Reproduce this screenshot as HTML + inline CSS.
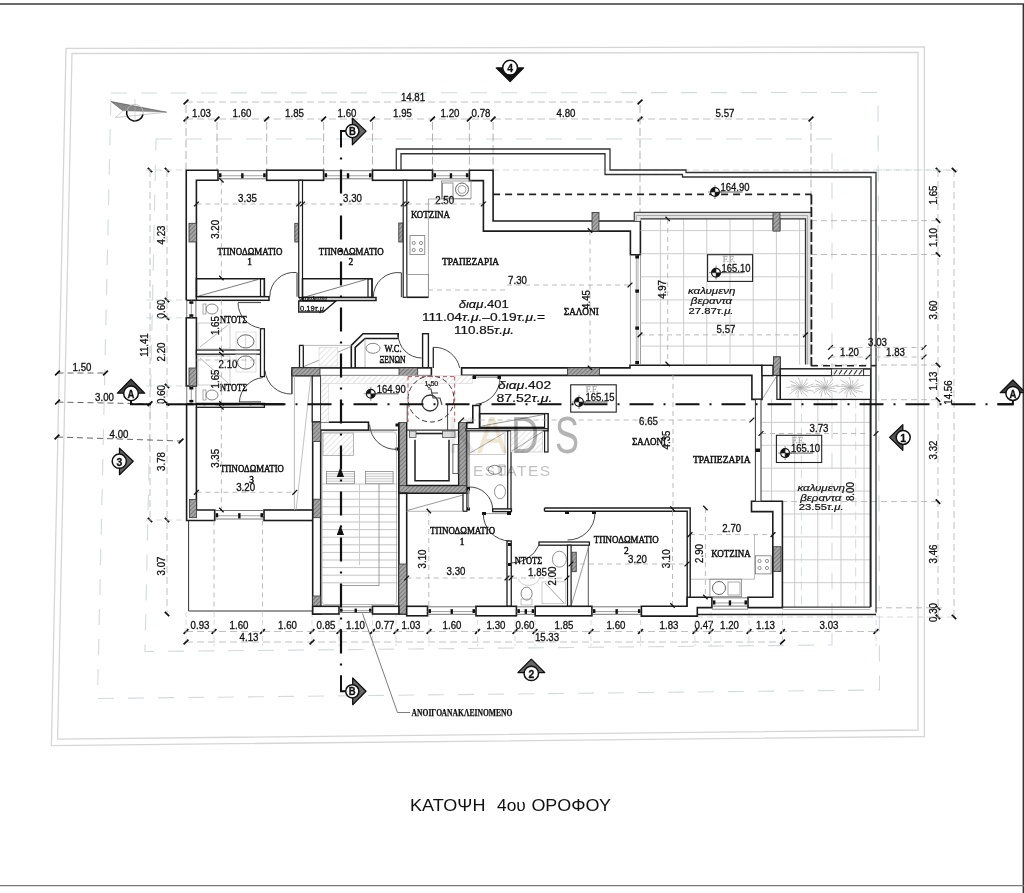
<!DOCTYPE html>
<html><head><meta charset="utf-8"><style>
html,body{margin:0;padding:0;background:#fff;}
svg{display:block;filter:blur(0.3px);}
</style></head><body>
<svg width="1024" height="893" viewBox="0 0 1024 893">
<defs>
<pattern id="hd" width="3" height="3" patternUnits="userSpaceOnUse" patternTransform="rotate(45)"><rect width="3" height="3" fill="#a6a6a6"/><line x1="0" y1="0" x2="0" y2="3" stroke="#555" stroke-width="1.1"/></pattern>
<pattern id="hl" width="4" height="4" patternUnits="userSpaceOnUse" patternTransform="rotate(45)"><rect width="4" height="4" fill="#fff"/><line x1="0" y1="0" x2="0" y2="4" stroke="#bbb" stroke-width="0.8"/></pattern>
</defs>
<rect width="1024" height="893" fill="#fff"/>
<line x1="0" y1="4" x2="1024" y2="4" stroke="#6a6a6a" stroke-width="1.8" stroke-linecap="butt"/>
<line x1="1023.3" y1="4" x2="1023.3" y2="893" stroke="#333" stroke-width="1.4" stroke-linecap="butt"/>
<line x1="0" y1="885.6" x2="1024" y2="885.6" stroke="#7a7a7a" stroke-width="1.3" stroke-linecap="butt"/>
<polygon points="66,48.4 924.4,46.8 924.4,736.5 51.4,745.6" stroke="#d6d6d6" stroke-width="1.3" fill="none" stroke-linejoin="miter"/>
<polygon points="72,53.5 918,52.5 918,730 57.6,739.1" stroke="#d6d6d6" stroke-width="1.3" fill="none" stroke-linejoin="miter"/>
<polygon points="111,93 878,92.5 879.5,690 97.5,698.5" stroke="#d2dadd" stroke-width="1.1" fill="none" stroke-dasharray="16,14" stroke-linejoin="miter"/>
<polygon points="156,139 832,139 832,645 145,651.5" stroke="#d2dadd" stroke-width="1.1" fill="none" stroke-dasharray="16,14" stroke-linejoin="miter"/>
<line x1="186" y1="102" x2="640" y2="102" stroke="#b3b3b3" stroke-width="0.8" stroke-dasharray="7,4" stroke-linecap="butt"/>
<line x1="183.6" y1="104.4" x2="188.4" y2="99.6" stroke="#111" stroke-width="1.7" stroke-linecap="butt"/>
<line x1="637.6" y1="104.4" x2="642.4" y2="99.6" stroke="#111" stroke-width="1.7" stroke-linecap="butt"/>
<text x="413.00" y="101.09" font-family="Liberation Sans, sans-serif" font-size="10.2" text-anchor="middle" font-weight="normal" font-style="normal" fill="#111" transform="translate(413.00,101.09) scale(0.95,1) translate(-413.00,-101.09)" stroke="#111" stroke-width="0.3">14.81</text>
<line x1="186" y1="119" x2="811" y2="119" stroke="#b3b3b3" stroke-width="0.8" stroke-dasharray="7,4" stroke-linecap="butt"/>
<line x1="183.6" y1="121.4" x2="188.4" y2="116.6" stroke="#111" stroke-width="1.7" stroke-linecap="butt"/>
<line x1="214.6" y1="121.4" x2="219.4" y2="116.6" stroke="#111" stroke-width="1.7" stroke-linecap="butt"/>
<line x1="264.3" y1="121.4" x2="269.09999999999997" y2="116.6" stroke="#111" stroke-width="1.7" stroke-linecap="butt"/>
<line x1="321.20000000000005" y1="121.4" x2="326.0" y2="116.6" stroke="#111" stroke-width="1.7" stroke-linecap="butt"/>
<line x1="370.1" y1="121.4" x2="374.9" y2="116.6" stroke="#111" stroke-width="1.7" stroke-linecap="butt"/>
<line x1="430.1" y1="121.4" x2="434.9" y2="116.6" stroke="#111" stroke-width="1.7" stroke-linecap="butt"/>
<line x1="467.0" y1="121.4" x2="471.79999999999995" y2="116.6" stroke="#111" stroke-width="1.7" stroke-linecap="butt"/>
<line x1="490.70000000000005" y1="121.4" x2="495.5" y2="116.6" stroke="#111" stroke-width="1.7" stroke-linecap="butt"/>
<line x1="637.6" y1="121.4" x2="642.4" y2="116.6" stroke="#111" stroke-width="1.7" stroke-linecap="butt"/>
<line x1="808.6" y1="121.4" x2="813.4" y2="116.6" stroke="#111" stroke-width="1.7" stroke-linecap="butt"/>
<text x="201.50" y="117.09" font-family="Liberation Sans, sans-serif" font-size="10.2" text-anchor="middle" font-weight="normal" font-style="normal" fill="#111" transform="translate(201.50,117.09) scale(0.95,1) translate(-201.50,-117.09)" stroke="#111" stroke-width="0.3">1.03</text>
<text x="242.00" y="117.09" font-family="Liberation Sans, sans-serif" font-size="10.2" text-anchor="middle" font-weight="normal" font-style="normal" fill="#111" transform="translate(242.00,117.09) scale(0.95,1) translate(-242.00,-117.09)" stroke="#111" stroke-width="0.3">1.60</text>
<text x="294.50" y="117.09" font-family="Liberation Sans, sans-serif" font-size="10.2" text-anchor="middle" font-weight="normal" font-style="normal" fill="#111" transform="translate(294.50,117.09) scale(0.95,1) translate(-294.50,-117.09)" stroke="#111" stroke-width="0.3">1.85</text>
<text x="347.00" y="117.09" font-family="Liberation Sans, sans-serif" font-size="10.2" text-anchor="middle" font-weight="normal" font-style="normal" fill="#111" transform="translate(347.00,117.09) scale(0.95,1) translate(-347.00,-117.09)" stroke="#111" stroke-width="0.3">1.60</text>
<text x="402.50" y="117.09" font-family="Liberation Sans, sans-serif" font-size="10.2" text-anchor="middle" font-weight="normal" font-style="normal" fill="#111" transform="translate(402.50,117.09) scale(0.95,1) translate(-402.50,-117.09)" stroke="#111" stroke-width="0.3">1.95</text>
<text x="450.00" y="117.09" font-family="Liberation Sans, sans-serif" font-size="10.2" text-anchor="middle" font-weight="normal" font-style="normal" fill="#111" transform="translate(450.00,117.09) scale(0.95,1) translate(-450.00,-117.09)" stroke="#111" stroke-width="0.3">1.20</text>
<text x="481.00" y="117.09" font-family="Liberation Sans, sans-serif" font-size="10.2" text-anchor="middle" font-weight="normal" font-style="normal" fill="#111" transform="translate(481.00,117.09) scale(0.95,1) translate(-481.00,-117.09)" stroke="#111" stroke-width="0.3">0.78</text>
<text x="566.00" y="117.09" font-family="Liberation Sans, sans-serif" font-size="10.2" text-anchor="middle" font-weight="normal" font-style="normal" fill="#111" transform="translate(566.00,117.09) scale(0.95,1) translate(-566.00,-117.09)" stroke="#111" stroke-width="0.3">4.80</text>
<text x="725.00" y="117.09" font-family="Liberation Sans, sans-serif" font-size="10.2" text-anchor="middle" font-weight="normal" font-style="normal" fill="#111" transform="translate(725.00,117.09) scale(0.95,1) translate(-725.00,-117.09)" stroke="#111" stroke-width="0.3">5.57</text>
<line x1="186" y1="105" x2="186" y2="170" stroke="#aaa" stroke-width="0.9" stroke-dasharray="8,3.5" stroke-linecap="butt"/>
<line x1="217" y1="122" x2="217" y2="170" stroke="#aaa" stroke-width="0.9" stroke-dasharray="8,3.5" stroke-linecap="butt"/>
<line x1="266.7" y1="122" x2="266.7" y2="170" stroke="#aaa" stroke-width="0.9" stroke-dasharray="8,3.5" stroke-linecap="butt"/>
<line x1="323.6" y1="122" x2="323.6" y2="170" stroke="#aaa" stroke-width="0.9" stroke-dasharray="8,3.5" stroke-linecap="butt"/>
<line x1="372.5" y1="122" x2="372.5" y2="170" stroke="#aaa" stroke-width="0.9" stroke-dasharray="8,3.5" stroke-linecap="butt"/>
<line x1="432.5" y1="122" x2="432.5" y2="170" stroke="#aaa" stroke-width="0.9" stroke-dasharray="8,3.5" stroke-linecap="butt"/>
<line x1="469.4" y1="122" x2="469.4" y2="170" stroke="#aaa" stroke-width="0.9" stroke-dasharray="8,3.5" stroke-linecap="butt"/>
<line x1="493.1" y1="122" x2="493.1" y2="170" stroke="#aaa" stroke-width="0.9" stroke-dasharray="8,3.5" stroke-linecap="butt"/>
<line x1="640" y1="105" x2="640" y2="212" stroke="#aaa" stroke-width="0.9" stroke-dasharray="8,3.5" stroke-linecap="butt"/>
<line x1="811" y1="122" x2="811" y2="212" stroke="#aaa" stroke-width="0.9" stroke-dasharray="8,3.5" stroke-linecap="butt"/>
<line x1="493" y1="170" x2="958" y2="170" stroke="#c9d3d6" stroke-width="0.8" stroke-dasharray="6,4" stroke-linecap="butt"/>
<line x1="150" y1="170" x2="150" y2="520" stroke="#b3b3b3" stroke-width="0.8" stroke-dasharray="7,4" stroke-linecap="butt"/>
<line x1="167" y1="170" x2="167" y2="614" stroke="#b3b3b3" stroke-width="0.8" stroke-dasharray="7,4" stroke-linecap="butt"/>
<line x1="147.8" y1="167.8" x2="152.2" y2="172.2" stroke="#111" stroke-width="1.7" stroke-linecap="butt"/>
<line x1="147.8" y1="517.8" x2="152.2" y2="522.2" stroke="#111" stroke-width="1.7" stroke-linecap="butt"/>
<line x1="164.8" y1="167.8" x2="169.2" y2="172.2" stroke="#111" stroke-width="1.7" stroke-linecap="butt"/>
<line x1="164.8" y1="297.8" x2="169.2" y2="302.2" stroke="#111" stroke-width="1.7" stroke-linecap="butt"/>
<line x1="164.8" y1="315.6" x2="169.2" y2="320.0" stroke="#111" stroke-width="1.7" stroke-linecap="butt"/>
<line x1="164.8" y1="383.8" x2="169.2" y2="388.2" stroke="#111" stroke-width="1.7" stroke-linecap="butt"/>
<line x1="164.8" y1="401.3" x2="169.2" y2="405.7" stroke="#111" stroke-width="1.7" stroke-linecap="butt"/>
<line x1="164.8" y1="517.8" x2="169.2" y2="522.2" stroke="#111" stroke-width="1.7" stroke-linecap="butt"/>
<line x1="164.8" y1="611.8" x2="169.2" y2="616.2" stroke="#111" stroke-width="1.7" stroke-linecap="butt"/>
<text x="148.09" y="345.00" font-family="Liberation Sans, sans-serif" font-size="10.2" text-anchor="middle" font-weight="normal" font-style="normal" fill="#111" transform="translate(148.09,345.00) rotate(-90) scale(0.95,1) translate(-148.09,-345.00)" stroke="#111" stroke-width="0.3">11.41</text>
<text x="164.59" y="235.00" font-family="Liberation Sans, sans-serif" font-size="10.2" text-anchor="middle" font-weight="normal" font-style="normal" fill="#111" transform="translate(164.59,235.00) rotate(-90) scale(0.95,1) translate(-164.59,-235.00)" stroke="#111" stroke-width="0.3">4.23</text>
<text x="164.59" y="309.00" font-family="Liberation Sans, sans-serif" font-size="10.2" text-anchor="middle" font-weight="normal" font-style="normal" fill="#111" transform="translate(164.59,309.00) rotate(-90) scale(0.95,1) translate(-164.59,-309.00)" stroke="#111" stroke-width="0.3">0.60</text>
<text x="164.59" y="352.00" font-family="Liberation Sans, sans-serif" font-size="10.2" text-anchor="middle" font-weight="normal" font-style="normal" fill="#111" transform="translate(164.59,352.00) rotate(-90) scale(0.95,1) translate(-164.59,-352.00)" stroke="#111" stroke-width="0.3">2.20</text>
<text x="164.59" y="394.50" font-family="Liberation Sans, sans-serif" font-size="10.2" text-anchor="middle" font-weight="normal" font-style="normal" fill="#111" transform="translate(164.59,394.50) rotate(-90) scale(0.95,1) translate(-164.59,-394.50)" stroke="#111" stroke-width="0.3">0.60</text>
<text x="164.59" y="461.50" font-family="Liberation Sans, sans-serif" font-size="10.2" text-anchor="middle" font-weight="normal" font-style="normal" fill="#111" transform="translate(164.59,461.50) rotate(-90) scale(0.95,1) translate(-164.59,-461.50)" stroke="#111" stroke-width="0.3">3.78</text>
<text x="164.59" y="566.00" font-family="Liberation Sans, sans-serif" font-size="10.2" text-anchor="middle" font-weight="normal" font-style="normal" fill="#111" transform="translate(164.59,566.00) rotate(-90) scale(0.95,1) translate(-164.59,-566.00)" stroke="#111" stroke-width="0.3">3.07</text>
<line x1="146" y1="170" x2="186" y2="170" stroke="#c9d3d6" stroke-width="0.8" stroke-dasharray="6,4" stroke-linecap="butt"/>
<line x1="146" y1="300" x2="186" y2="300" stroke="#c9d3d6" stroke-width="0.8" stroke-dasharray="6,4" stroke-linecap="butt"/>
<line x1="146" y1="317.8" x2="186" y2="317.8" stroke="#c9d3d6" stroke-width="0.8" stroke-dasharray="6,4" stroke-linecap="butt"/>
<line x1="146" y1="386" x2="186" y2="386" stroke="#c9d3d6" stroke-width="0.8" stroke-dasharray="6,4" stroke-linecap="butt"/>
<line x1="146" y1="403.5" x2="186" y2="403.5" stroke="#c9d3d6" stroke-width="0.8" stroke-dasharray="6,4" stroke-linecap="butt"/>
<line x1="146" y1="520" x2="186" y2="520" stroke="#c9d3d6" stroke-width="0.8" stroke-dasharray="6,4" stroke-linecap="butt"/>
<line x1="57.5" y1="373" x2="105.5" y2="373" stroke="#555" stroke-width="0.9" stroke-dasharray="6,4" stroke-linecap="butt"/>
<line x1="55.1" y1="375.4" x2="59.9" y2="370.6" stroke="#111" stroke-width="1.7" stroke-linecap="butt"/>
<line x1="103.1" y1="375.4" x2="107.9" y2="370.6" stroke="#111" stroke-width="1.7" stroke-linecap="butt"/>
<text x="82.00" y="370.59" font-family="Liberation Sans, sans-serif" font-size="10.2" text-anchor="middle" font-weight="normal" font-style="normal" fill="#111" transform="translate(82.00,370.59) scale(0.95,1) translate(-82.00,-370.59)" stroke="#111" stroke-width="0.3">1.50</text>
<line x1="57.5" y1="402.1" x2="150" y2="403.8" stroke="#555" stroke-width="0.9" stroke-dasharray="6,4" stroke-linecap="butt"/>
<line x1="55.1" y1="404.5" x2="59.9" y2="399.70000000000005" stroke="#111" stroke-width="1.7" stroke-linecap="butt"/>
<line x1="147.6" y1="406.2" x2="152.4" y2="401.40000000000003" stroke="#111" stroke-width="1.7" stroke-linecap="butt"/>
<text x="104.50" y="400.89" font-family="Liberation Sans, sans-serif" font-size="10.2" text-anchor="middle" font-weight="normal" font-style="normal" fill="#111" transform="translate(104.50,400.89) scale(0.95,1) translate(-104.50,-400.89)" stroke="#111" stroke-width="0.3">3.00</text>
<line x1="57" y1="437" x2="181" y2="441" stroke="#555" stroke-width="0.9" stroke-dasharray="6,4" stroke-linecap="butt"/>
<line x1="54.6" y1="439.4" x2="59.4" y2="434.6" stroke="#111" stroke-width="1.7" stroke-linecap="butt"/>
<line x1="178.6" y1="443.4" x2="183.4" y2="438.6" stroke="#111" stroke-width="1.7" stroke-linecap="butt"/>
<text x="119.00" y="438.19" font-family="Liberation Sans, sans-serif" font-size="10.2" text-anchor="middle" font-weight="normal" font-style="normal" fill="#111" transform="translate(119.00,438.19) scale(0.95,1) translate(-119.00,-438.19)" stroke="#111" stroke-width="0.3">4.00</text>
<line x1="938" y1="170" x2="938" y2="617" stroke="#b3b3b3" stroke-width="0.8" stroke-dasharray="7,4" stroke-linecap="butt"/>
<line x1="954" y1="170" x2="954" y2="620" stroke="#b3b3b3" stroke-width="0.8" stroke-dasharray="7,4" stroke-linecap="butt"/>
<line x1="935.8" y1="167.8" x2="940.2" y2="172.2" stroke="#111" stroke-width="1.7" stroke-linecap="butt"/>
<line x1="935.8" y1="218.5" x2="940.2" y2="222.89999999999998" stroke="#111" stroke-width="1.7" stroke-linecap="butt"/>
<line x1="935.8" y1="252.3" x2="940.2" y2="256.7" stroke="#111" stroke-width="1.7" stroke-linecap="butt"/>
<line x1="935.8" y1="362.8" x2="940.2" y2="367.2" stroke="#111" stroke-width="1.7" stroke-linecap="butt"/>
<line x1="935.8" y1="397.5" x2="940.2" y2="401.9" stroke="#111" stroke-width="1.7" stroke-linecap="butt"/>
<line x1="935.8" y1="499.40000000000003" x2="940.2" y2="503.8" stroke="#111" stroke-width="1.7" stroke-linecap="butt"/>
<line x1="935.8" y1="605.5999999999999" x2="940.2" y2="610.0" stroke="#111" stroke-width="1.7" stroke-linecap="butt"/>
<line x1="935.8" y1="614.8" x2="940.2" y2="619.2" stroke="#111" stroke-width="1.7" stroke-linecap="butt"/>
<line x1="951.8" y1="167.8" x2="956.2" y2="172.2" stroke="#111" stroke-width="1.7" stroke-linecap="butt"/>
<line x1="951.8" y1="614.8" x2="956.2" y2="619.2" stroke="#111" stroke-width="1.7" stroke-linecap="butt"/>
<text x="936.59" y="195.00" font-family="Liberation Sans, sans-serif" font-size="10.2" text-anchor="middle" font-weight="normal" font-style="normal" fill="#111" transform="translate(936.59,195.00) rotate(-90) scale(0.95,1) translate(-936.59,-195.00)" stroke="#111" stroke-width="0.3">1.65</text>
<text x="936.59" y="237.50" font-family="Liberation Sans, sans-serif" font-size="10.2" text-anchor="middle" font-weight="normal" font-style="normal" fill="#111" transform="translate(936.59,237.50) rotate(-90) scale(0.95,1) translate(-936.59,-237.50)" stroke="#111" stroke-width="0.3">1.10</text>
<text x="936.59" y="310.00" font-family="Liberation Sans, sans-serif" font-size="10.2" text-anchor="middle" font-weight="normal" font-style="normal" fill="#111" transform="translate(936.59,310.00) rotate(-90) scale(0.95,1) translate(-936.59,-310.00)" stroke="#111" stroke-width="0.3">3.60</text>
<text x="936.59" y="381.00" font-family="Liberation Sans, sans-serif" font-size="10.2" text-anchor="middle" font-weight="normal" font-style="normal" fill="#111" transform="translate(936.59,381.00) rotate(-90) scale(0.95,1) translate(-936.59,-381.00)" stroke="#111" stroke-width="0.3">1.13</text>
<text x="936.59" y="450.00" font-family="Liberation Sans, sans-serif" font-size="10.2" text-anchor="middle" font-weight="normal" font-style="normal" fill="#111" transform="translate(936.59,450.00) rotate(-90) scale(0.95,1) translate(-936.59,-450.00)" stroke="#111" stroke-width="0.3">3.32</text>
<text x="936.59" y="554.00" font-family="Liberation Sans, sans-serif" font-size="10.2" text-anchor="middle" font-weight="normal" font-style="normal" fill="#111" transform="translate(936.59,554.00) rotate(-90) scale(0.95,1) translate(-936.59,-554.00)" stroke="#111" stroke-width="0.3">3.46</text>
<text x="936.59" y="612.50" font-family="Liberation Sans, sans-serif" font-size="10.2" text-anchor="middle" font-weight="normal" font-style="normal" fill="#111" transform="translate(936.59,612.50) rotate(-90) scale(0.95,1) translate(-936.59,-612.50)" stroke="#111" stroke-width="0.3">0.30</text>
<text x="951.59" y="392.50" font-family="Liberation Sans, sans-serif" font-size="10.2" text-anchor="middle" font-weight="normal" font-style="normal" fill="#111" transform="translate(951.59,392.50) rotate(-90) scale(0.95,1) translate(-951.59,-392.50)" stroke="#111" stroke-width="0.3">14.56</text>
<line x1="811" y1="220.7" x2="942" y2="220.7" stroke="#aaa" stroke-width="0.8" stroke-dasharray="6,4" stroke-linecap="butt"/>
<line x1="811" y1="254.5" x2="942" y2="254.5" stroke="#aaa" stroke-width="0.8" stroke-dasharray="6,4" stroke-linecap="butt"/>
<line x1="811" y1="365" x2="942" y2="365" stroke="#aaa" stroke-width="0.8" stroke-dasharray="6,4" stroke-linecap="butt"/>
<line x1="811" y1="399.7" x2="942" y2="399.7" stroke="#aaa" stroke-width="0.8" stroke-dasharray="6,4" stroke-linecap="butt"/>
<line x1="761" y1="501.6" x2="942" y2="501.6" stroke="#aaa" stroke-width="0.8" stroke-dasharray="6,4" stroke-linecap="butt"/>
<line x1="876" y1="607.8" x2="942" y2="607.8" stroke="#aaa" stroke-width="0.8" stroke-dasharray="6,4" stroke-linecap="butt"/>
<line x1="697" y1="617" x2="958" y2="617" stroke="#c9d3d6" stroke-width="0.8" stroke-dasharray="6,4" stroke-linecap="butt"/>
<line x1="876" y1="170" x2="958" y2="170" stroke="#c9d3d6" stroke-width="0.8" stroke-dasharray="6,4" stroke-linecap="butt"/>
<line x1="186" y1="631.5" x2="876" y2="631.5" stroke="#b3b3b3" stroke-width="0.8" stroke-dasharray="7,4" stroke-linecap="butt"/>
<line x1="183.6" y1="633.9" x2="188.4" y2="629.1" stroke="#111" stroke-width="1.7" stroke-linecap="butt"/>
<line x1="211.6" y1="633.9" x2="216.4" y2="629.1" stroke="#111" stroke-width="1.7" stroke-linecap="butt"/>
<line x1="260.1" y1="633.9" x2="264.9" y2="629.1" stroke="#111" stroke-width="1.7" stroke-linecap="butt"/>
<line x1="309.6" y1="633.9" x2="314.4" y2="629.1" stroke="#111" stroke-width="1.7" stroke-linecap="butt"/>
<line x1="336.6" y1="633.9" x2="341.4" y2="629.1" stroke="#111" stroke-width="1.7" stroke-linecap="butt"/>
<line x1="370.1" y1="633.9" x2="374.9" y2="629.1" stroke="#111" stroke-width="1.7" stroke-linecap="butt"/>
<line x1="393.6" y1="633.9" x2="398.4" y2="629.1" stroke="#111" stroke-width="1.7" stroke-linecap="butt"/>
<line x1="426.6" y1="633.9" x2="431.4" y2="629.1" stroke="#111" stroke-width="1.7" stroke-linecap="butt"/>
<line x1="475.1" y1="633.9" x2="479.9" y2="629.1" stroke="#111" stroke-width="1.7" stroke-linecap="butt"/>
<line x1="512.6" y1="633.9" x2="517.4" y2="629.1" stroke="#111" stroke-width="1.7" stroke-linecap="butt"/>
<line x1="532.6" y1="633.9" x2="537.4" y2="629.1" stroke="#111" stroke-width="1.7" stroke-linecap="butt"/>
<line x1="588.6" y1="633.9" x2="593.4" y2="629.1" stroke="#111" stroke-width="1.7" stroke-linecap="butt"/>
<line x1="638.1" y1="633.9" x2="642.9" y2="629.1" stroke="#111" stroke-width="1.7" stroke-linecap="butt"/>
<line x1="692.6" y1="633.9" x2="697.4" y2="629.1" stroke="#111" stroke-width="1.7" stroke-linecap="butt"/>
<line x1="708.6" y1="633.9" x2="713.4" y2="629.1" stroke="#111" stroke-width="1.7" stroke-linecap="butt"/>
<line x1="746.6" y1="633.9" x2="751.4" y2="629.1" stroke="#111" stroke-width="1.7" stroke-linecap="butt"/>
<line x1="780.1" y1="633.9" x2="784.9" y2="629.1" stroke="#111" stroke-width="1.7" stroke-linecap="butt"/>
<line x1="873.6" y1="633.9" x2="878.4" y2="629.1" stroke="#111" stroke-width="1.7" stroke-linecap="butt"/>
<text x="200.00" y="629.09" font-family="Liberation Sans, sans-serif" font-size="10.2" text-anchor="middle" font-weight="normal" font-style="normal" fill="#111" transform="translate(200.00,629.09) scale(0.95,1) translate(-200.00,-629.09)" stroke="#111" stroke-width="0.3">0.93</text>
<text x="239.00" y="629.09" font-family="Liberation Sans, sans-serif" font-size="10.2" text-anchor="middle" font-weight="normal" font-style="normal" fill="#111" transform="translate(239.00,629.09) scale(0.95,1) translate(-239.00,-629.09)" stroke="#111" stroke-width="0.3">1.60</text>
<text x="287.50" y="629.09" font-family="Liberation Sans, sans-serif" font-size="10.2" text-anchor="middle" font-weight="normal" font-style="normal" fill="#111" transform="translate(287.50,629.09) scale(0.95,1) translate(-287.50,-629.09)" stroke="#111" stroke-width="0.3">1.60</text>
<text x="326.00" y="629.09" font-family="Liberation Sans, sans-serif" font-size="10.2" text-anchor="middle" font-weight="normal" font-style="normal" fill="#111" transform="translate(326.00,629.09) scale(0.95,1) translate(-326.00,-629.09)" stroke="#111" stroke-width="0.3">0.85</text>
<text x="355.50" y="629.09" font-family="Liberation Sans, sans-serif" font-size="10.2" text-anchor="middle" font-weight="normal" font-style="normal" fill="#111" transform="translate(355.50,629.09) scale(0.95,1) translate(-355.50,-629.09)" stroke="#111" stroke-width="0.3">1.10</text>
<text x="385.00" y="629.09" font-family="Liberation Sans, sans-serif" font-size="10.2" text-anchor="middle" font-weight="normal" font-style="normal" fill="#111" transform="translate(385.00,629.09) scale(0.95,1) translate(-385.00,-629.09)" stroke="#111" stroke-width="0.3">0.77</text>
<text x="411.00" y="629.09" font-family="Liberation Sans, sans-serif" font-size="10.2" text-anchor="middle" font-weight="normal" font-style="normal" fill="#111" transform="translate(411.00,629.09) scale(0.95,1) translate(-411.00,-629.09)" stroke="#111" stroke-width="0.3">1.03</text>
<text x="452.00" y="629.09" font-family="Liberation Sans, sans-serif" font-size="10.2" text-anchor="middle" font-weight="normal" font-style="normal" fill="#111" transform="translate(452.00,629.09) scale(0.95,1) translate(-452.00,-629.09)" stroke="#111" stroke-width="0.3">1.60</text>
<text x="496.00" y="629.09" font-family="Liberation Sans, sans-serif" font-size="10.2" text-anchor="middle" font-weight="normal" font-style="normal" fill="#111" transform="translate(496.00,629.09) scale(0.95,1) translate(-496.00,-629.09)" stroke="#111" stroke-width="0.3">1.30</text>
<text x="525.00" y="629.09" font-family="Liberation Sans, sans-serif" font-size="10.2" text-anchor="middle" font-weight="normal" font-style="normal" fill="#111" transform="translate(525.00,629.09) scale(0.95,1) translate(-525.00,-629.09)" stroke="#111" stroke-width="0.3">0.60</text>
<text x="564.00" y="629.09" font-family="Liberation Sans, sans-serif" font-size="10.2" text-anchor="middle" font-weight="normal" font-style="normal" fill="#111" transform="translate(564.00,629.09) scale(0.95,1) translate(-564.00,-629.09)" stroke="#111" stroke-width="0.3">1.85</text>
<text x="616.00" y="629.09" font-family="Liberation Sans, sans-serif" font-size="10.2" text-anchor="middle" font-weight="normal" font-style="normal" fill="#111" transform="translate(616.00,629.09) scale(0.95,1) translate(-616.00,-629.09)" stroke="#111" stroke-width="0.3">1.60</text>
<text x="669.00" y="629.09" font-family="Liberation Sans, sans-serif" font-size="10.2" text-anchor="middle" font-weight="normal" font-style="normal" fill="#111" transform="translate(669.00,629.09) scale(0.95,1) translate(-669.00,-629.09)" stroke="#111" stroke-width="0.3">1.83</text>
<text x="704.00" y="629.09" font-family="Liberation Sans, sans-serif" font-size="10.2" text-anchor="middle" font-weight="normal" font-style="normal" fill="#111" transform="translate(704.00,629.09) scale(0.95,1) translate(-704.00,-629.09)" stroke="#111" stroke-width="0.3">0.47</text>
<text x="729.50" y="629.09" font-family="Liberation Sans, sans-serif" font-size="10.2" text-anchor="middle" font-weight="normal" font-style="normal" fill="#111" transform="translate(729.50,629.09) scale(0.95,1) translate(-729.50,-629.09)" stroke="#111" stroke-width="0.3">1.20</text>
<text x="765.50" y="629.09" font-family="Liberation Sans, sans-serif" font-size="10.2" text-anchor="middle" font-weight="normal" font-style="normal" fill="#111" transform="translate(765.50,629.09) scale(0.95,1) translate(-765.50,-629.09)" stroke="#111" stroke-width="0.3">1.13</text>
<text x="829.00" y="629.09" font-family="Liberation Sans, sans-serif" font-size="10.2" text-anchor="middle" font-weight="normal" font-style="normal" fill="#111" transform="translate(829.00,629.09) scale(0.95,1) translate(-829.00,-629.09)" stroke="#111" stroke-width="0.3">3.03</text>
<line x1="186" y1="642" x2="782.5" y2="642" stroke="#b3b3b3" stroke-width="0.8" stroke-dasharray="7,4" stroke-linecap="butt"/>
<line x1="183.6" y1="644.4" x2="188.4" y2="639.6" stroke="#111" stroke-width="1.7" stroke-linecap="butt"/>
<line x1="309.6" y1="644.4" x2="314.4" y2="639.6" stroke="#111" stroke-width="1.7" stroke-linecap="butt"/>
<line x1="780.1" y1="644.4" x2="784.9" y2="639.6" stroke="#111" stroke-width="1.7" stroke-linecap="butt"/>
<text x="249.00" y="640.59" font-family="Liberation Sans, sans-serif" font-size="10.2" text-anchor="middle" font-weight="normal" font-style="normal" fill="#111" transform="translate(249.00,640.59) scale(0.95,1) translate(-249.00,-640.59)" stroke="#111" stroke-width="0.3">4.13</text>
<text x="547.00" y="640.59" font-family="Liberation Sans, sans-serif" font-size="10.2" text-anchor="middle" font-weight="normal" font-style="normal" fill="#111" transform="translate(547.00,640.59) scale(0.95,1) translate(-547.00,-640.59)" stroke="#111" stroke-width="0.3">15.33</text>
<line x1="186" y1="612" x2="186" y2="646" stroke="#c9d3d6" stroke-width="0.8" stroke-dasharray="5,3" stroke-linecap="butt"/>
<line x1="214" y1="612" x2="214" y2="646" stroke="#c9d3d6" stroke-width="0.8" stroke-dasharray="5,3" stroke-linecap="butt"/>
<line x1="262.5" y1="612" x2="262.5" y2="646" stroke="#c9d3d6" stroke-width="0.8" stroke-dasharray="5,3" stroke-linecap="butt"/>
<line x1="312" y1="612" x2="312" y2="646" stroke="#c9d3d6" stroke-width="0.8" stroke-dasharray="5,3" stroke-linecap="butt"/>
<line x1="339" y1="612" x2="339" y2="646" stroke="#c9d3d6" stroke-width="0.8" stroke-dasharray="5,3" stroke-linecap="butt"/>
<line x1="372.5" y1="612" x2="372.5" y2="646" stroke="#c9d3d6" stroke-width="0.8" stroke-dasharray="5,3" stroke-linecap="butt"/>
<line x1="396" y1="612" x2="396" y2="646" stroke="#c9d3d6" stroke-width="0.8" stroke-dasharray="5,3" stroke-linecap="butt"/>
<line x1="429" y1="612" x2="429" y2="646" stroke="#c9d3d6" stroke-width="0.8" stroke-dasharray="5,3" stroke-linecap="butt"/>
<line x1="477.5" y1="612" x2="477.5" y2="646" stroke="#c9d3d6" stroke-width="0.8" stroke-dasharray="5,3" stroke-linecap="butt"/>
<line x1="515" y1="612" x2="515" y2="646" stroke="#c9d3d6" stroke-width="0.8" stroke-dasharray="5,3" stroke-linecap="butt"/>
<line x1="535" y1="612" x2="535" y2="646" stroke="#c9d3d6" stroke-width="0.8" stroke-dasharray="5,3" stroke-linecap="butt"/>
<line x1="591" y1="612" x2="591" y2="646" stroke="#c9d3d6" stroke-width="0.8" stroke-dasharray="5,3" stroke-linecap="butt"/>
<line x1="640.5" y1="612" x2="640.5" y2="646" stroke="#c9d3d6" stroke-width="0.8" stroke-dasharray="5,3" stroke-linecap="butt"/>
<line x1="695" y1="612" x2="695" y2="646" stroke="#c9d3d6" stroke-width="0.8" stroke-dasharray="5,3" stroke-linecap="butt"/>
<line x1="711" y1="612" x2="711" y2="646" stroke="#c9d3d6" stroke-width="0.8" stroke-dasharray="5,3" stroke-linecap="butt"/>
<line x1="749" y1="612" x2="749" y2="646" stroke="#c9d3d6" stroke-width="0.8" stroke-dasharray="5,3" stroke-linecap="butt"/>
<line x1="782.5" y1="612" x2="782.5" y2="646" stroke="#c9d3d6" stroke-width="0.8" stroke-dasharray="5,3" stroke-linecap="butt"/>
<line x1="876" y1="612" x2="876" y2="646" stroke="#c9d3d6" stroke-width="0.8" stroke-dasharray="5,3" stroke-linecap="butt"/>
<polyline points="186.25,300.3 186.25,170.2 218,170.2 218,180.3 196.4,180.3 196.4,296.7" stroke="#1c1c1c" stroke-width="1.6" fill="none" stroke-linejoin="miter"/>
<line x1="186.25" y1="300.3" x2="196.4" y2="300.3" stroke="#1c1c1c" stroke-width="1.6" stroke-linecap="butt"/>
<line x1="218" y1="170.7" x2="266.7" y2="170.7" stroke="#555" stroke-width="0.8" stroke-linecap="butt"/>
<line x1="218" y1="175.75" x2="266.7" y2="175.75" stroke="#888" stroke-width="0.8" stroke-linecap="butt"/>
<line x1="218" y1="178.8" x2="266.7" y2="178.8" stroke="#555" stroke-width="0.8" stroke-linecap="butt"/>
<rect x="219" y="173.23" width="2.5" height="4.0400000000000205" fill="#111"/>
<rect x="263.2" y="173.23" width="2.5" height="4.0400000000000205" fill="#111"/>
<rect x="241.15" y="173.23" width="2.3999999999999773" height="5.050000000000011" fill="#111"/>
<rect x="266.7" y="170.2" width="56.900000000000034" height="10.100000000000023" stroke="#1c1c1c" stroke-width="1.6" fill="#fff"/>
<line x1="323.6" y1="170.7" x2="372.5" y2="170.7" stroke="#555" stroke-width="0.8" stroke-linecap="butt"/>
<line x1="323.6" y1="175.75" x2="372.5" y2="175.75" stroke="#888" stroke-width="0.8" stroke-linecap="butt"/>
<line x1="323.6" y1="178.8" x2="372.5" y2="178.8" stroke="#555" stroke-width="0.8" stroke-linecap="butt"/>
<rect x="324.6" y="173.23" width="2.5" height="4.0400000000000205" fill="#111"/>
<rect x="369.0" y="173.23" width="2.5" height="4.0400000000000205" fill="#111"/>
<rect x="346.85" y="173.23" width="2.3999999999999773" height="5.050000000000011" fill="#111"/>
<rect x="372.5" y="170.2" width="60.0" height="10.100000000000023" stroke="#1c1c1c" stroke-width="1.6" fill="#fff"/>
<line x1="432.5" y1="170.7" x2="469.4" y2="170.7" stroke="#555" stroke-width="0.8" stroke-linecap="butt"/>
<line x1="432.5" y1="175.75" x2="469.4" y2="175.75" stroke="#888" stroke-width="0.8" stroke-linecap="butt"/>
<line x1="432.5" y1="178.8" x2="469.4" y2="178.8" stroke="#555" stroke-width="0.8" stroke-linecap="butt"/>
<rect x="433.5" y="173.23" width="2.5" height="4.0400000000000205" fill="#111"/>
<rect x="465.9" y="173.23" width="2.5" height="4.0400000000000205" fill="#111"/>
<rect x="449.75" y="173.23" width="2.3999999999999773" height="5.050000000000011" fill="#111"/>
<polygon points="469.4,170.2 493.1,170.2 493.1,221 640.4,221 640.4,254.8 630.4,254.8 630.4,231.1 483.4,231.1 483.4,180.6 469.4,180.6" stroke="#1c1c1c" stroke-width="1.6" fill="#fff" stroke-linejoin="miter"/>
<rect x="189" y="223.3" width="7.400000000000006" height="18.69999999999999" fill="url(#hd)" stroke="#333" stroke-width="0.8"/>
<rect x="294.8" y="223.3" width="3.9499999999999886" height="18.69999999999999" fill="url(#hd)" stroke="#333" stroke-width="0.8"/>
<rect x="398.75" y="223" width="4.25" height="19" fill="url(#hd)" stroke="#333" stroke-width="0.8"/>
<rect x="592" y="212.5" width="7" height="18.599999999999994" fill="url(#hd)" stroke="#333" stroke-width="0.8"/>
<rect x="773" y="212.5" width="7" height="18.0" fill="url(#hd)" stroke="#333" stroke-width="0.8"/>
<rect x="298.75" y="180.3" width="3.75" height="117.19999999999999" stroke="#1c1c1c" stroke-width="1.2" fill="#fff"/>
<rect x="403.2" y="180.3" width="3.6000000000000227" height="117.0" stroke="#1c1c1c" stroke-width="1.2" fill="#fff"/>
<rect x="186.25" y="317.8" width="10.150000000000006" height="68.19999999999999" stroke="#1c1c1c" stroke-width="1.6" fill="#fff"/>
<rect x="189" y="368" width="7.400000000000006" height="18" fill="url(#hd)" stroke="#333" stroke-width="0.8"/>
<line x1="186.75" y1="300.3" x2="186.75" y2="317.8" stroke="#555" stroke-width="0.8" stroke-linecap="butt"/>
<line x1="191.325" y1="300.3" x2="191.325" y2="317.8" stroke="#888" stroke-width="0.8" stroke-linecap="butt"/>
<line x1="195.9" y1="300.3" x2="195.9" y2="317.8" stroke="#555" stroke-width="0.8" stroke-linecap="butt"/>
<rect x="189.29500000000002" y="301.3" width="4.059999999999974" height="2.5" fill="#111"/>
<rect x="189.29500000000002" y="314.3" width="4.059999999999974" height="2.5" fill="#111"/>
<line x1="186.75" y1="386" x2="186.75" y2="403.4" stroke="#555" stroke-width="0.8" stroke-linecap="butt"/>
<line x1="191.325" y1="386" x2="191.325" y2="403.4" stroke="#888" stroke-width="0.8" stroke-linecap="butt"/>
<line x1="195.9" y1="386" x2="195.9" y2="403.4" stroke="#555" stroke-width="0.8" stroke-linecap="butt"/>
<rect x="189.29500000000002" y="387" width="4.059999999999974" height="2.5" fill="#111"/>
<rect x="189.29500000000002" y="399.9" width="4.059999999999974" height="2.5" fill="#111"/>
<rect x="196.4" y="278.75" width="67.99999999999997" height="17.94999999999999" stroke="#1c1c1c" stroke-width="1.5" fill="none"/>
<rect x="260.5" y="278.75" width="3.8999999999999773" height="17.94999999999999" stroke="#1c1c1c" stroke-width="1.2" fill="none"/>
<line x1="199" y1="296" x2="258" y2="279.5" stroke="#444" stroke-width="0.7" stroke-linecap="butt"/>
<rect x="196.4" y="296.7" width="72.6" height="3.6000000000000227" stroke="#1c1c1c" stroke-width="1.5" fill="#fff"/>
<rect x="302.5" y="278.75" width="69.5" height="18.75" stroke="#1c1c1c" stroke-width="1.5" fill="none"/>
<rect x="368" y="278.75" width="4" height="18.75" stroke="#1c1c1c" stroke-width="1.2" fill="none"/>
<line x1="305" y1="297" x2="366" y2="279.5" stroke="#444" stroke-width="0.7" stroke-linecap="butt"/>
<rect x="302.5" y="297.5" width="73.5" height="3.0" stroke="#1c1c1c" stroke-width="1.5" fill="#fff"/>
<line x1="297" y1="272.5" x2="297" y2="296.7" stroke="#555" stroke-width="1.2" stroke-linecap="butt"/>
<path d="M296.4,272.5 A24.2,24.2 0 0 0 269.8,296.7" stroke="#333" stroke-width="0.9" fill="none"/>
<line x1="401.4" y1="272.8" x2="401.4" y2="297.3" stroke="#555" stroke-width="1.2" stroke-linecap="butt"/>
<path d="M401.4,272.8 A24.5,24.5 0 0 0 373.3,297.3" stroke="#333" stroke-width="0.9" fill="none"/>
<line x1="428.4" y1="199" x2="428.4" y2="297.3" stroke="#999" stroke-width="0.8" stroke-linecap="butt"/>
<line x1="428.4" y1="199" x2="471" y2="199" stroke="#999" stroke-width="0.8" stroke-linecap="butt"/>
<rect x="406.8" y="274.4" width="21.599999999999966" height="22.900000000000034" stroke="#888" stroke-width="0.8" fill="none"/>
<line x1="406.8" y1="297.3" x2="428.4" y2="297.3" stroke="#1c1c1c" stroke-width="1.6" stroke-linecap="butt"/>
<rect x="410" y="235.6" width="14.800000000000011" height="18.80000000000001" stroke="#777" stroke-width="0.8" fill="none"/>
<circle cx="413.7" cy="243" r="1.6" stroke="#666" stroke-width="0.7" fill="none"/>
<circle cx="421" cy="243" r="1.6" stroke="#666" stroke-width="0.7" fill="none"/>
<circle cx="413.7" cy="250" r="1.6" stroke="#666" stroke-width="0.7" fill="none"/>
<circle cx="421" cy="250" r="1.6" stroke="#666" stroke-width="0.7" fill="none"/>
<rect x="441.5" y="181" width="29.5" height="17.599999999999994" stroke="#888" stroke-width="0.8" fill="none"/>
<rect x="442.5" y="183" width="10.5" height="14" stroke="#777" stroke-width="0.8" fill="none"/>
<circle cx="462" cy="189.5" r="6.5" stroke="#555" stroke-width="0.9" fill="none"/>
<circle cx="462" cy="189.5" r="4" stroke="#777" stroke-width="0.7" fill="none"/>
<rect x="196.4" y="350" width="67.99999999999997" height="4.199999999999989" stroke="#1c1c1c" stroke-width="1.3" fill="#fff"/>
<rect x="260.5" y="328.75" width="3.8999999999999773" height="47.85000000000002" stroke="#1c1c1c" stroke-width="1.3" fill="#fff"/>
<rect x="196.4" y="403.4" width="67.99999999999997" height="3.900000000000034" stroke="#1c1c1c" stroke-width="1.3" fill="#fff"/>
<line x1="238" y1="302.5" x2="261" y2="302.5" stroke="#555" stroke-width="1.2" stroke-linecap="butt"/>
<path d="M238,303 A26,26 0 0 0 259.7,328" stroke="#333" stroke-width="0.9" fill="none"/>
<line x1="239" y1="401.9" x2="261" y2="401.9" stroke="#555" stroke-width="1.2" stroke-linecap="butt"/>
<path d="M239.4,401.9 A26,26 0 0 1 262.8,377.6" stroke="#333" stroke-width="0.9" fill="none"/>
<line x1="291.7" y1="370" x2="291.7" y2="394" stroke="#555" stroke-width="1.2" stroke-linecap="butt"/>
<path d="M265,370.6 A26,26 0 0 0 291.7,394" stroke="#333" stroke-width="0.9" fill="none"/>
<ellipse cx="212" cy="309" rx="6" ry="5" stroke="#666" stroke-width="0.8" fill="none"/>
<rect x="203" y="304" width="3" height="10" stroke="#888" stroke-width="0.7" fill="none"/>
<ellipse cx="212" cy="395" rx="6" ry="5" stroke="#666" stroke-width="0.8" fill="none"/>
<rect x="203" y="390" width="3" height="10" stroke="#888" stroke-width="0.7" fill="none"/>
<ellipse cx="245.7" cy="341.4" rx="8.3" ry="6.6" stroke="#666" stroke-width="1" fill="none"/>
<line x1="245.7" y1="334.79999999999995" x2="245.7" y2="348.0" stroke="#aaa" stroke-width="0.5" stroke-linecap="butt"/>
<ellipse cx="245.7" cy="362.5" rx="8.3" ry="6.6" stroke="#666" stroke-width="1" fill="none"/>
<line x1="245.7" y1="355.9" x2="245.7" y2="369.1" stroke="#aaa" stroke-width="0.5" stroke-linecap="butt"/>
<rect x="236" y="332" width="20" height="18" stroke="#ccc" stroke-width="0.6" fill="none"/>
<rect x="236" y="354.2" width="20" height="17.80000000000001" stroke="#ccc" stroke-width="0.6" fill="none"/>
<rect x="198" y="323" width="32" height="26" stroke="#aaa" stroke-width="0.6" fill="none"/>
<line x1="200" y1="347" x2="228" y2="325" stroke="#888" stroke-width="0.6" stroke-linecap="butt"/>
<rect x="198" y="356" width="32" height="29" stroke="#aaa" stroke-width="0.6" fill="none"/>
<line x1="200" y1="358" x2="228" y2="383" stroke="#888" stroke-width="0.6" stroke-linecap="butt"/>
<polygon points="298.75,301 336,301 323,312 298.75,312" stroke="#1c1c1c" stroke-width="1.4" fill="none" stroke-linejoin="miter"/>
<polyline points="351.3,367.9 351.3,345.4 363,333.7 398.2,333.7 398.2,337.6" stroke="#1c1c1c" stroke-width="1.6" fill="none" stroke-linejoin="miter"/>
<polyline points="355.2,367.9 355.2,347.3 365,338.5 398.2,338.5" stroke="#1c1c1c" stroke-width="1.6" fill="none" stroke-linejoin="miter"/>
<rect x="422.6" y="333.7" width="5.7999999999999545" height="34.19999999999999" stroke="#1c1c1c" stroke-width="1.4" fill="#fff"/>
<path d="M398.2,334.6 A23.5,23.5 0 0 0 421.6,358" stroke="#333" stroke-width="0.9" fill="none"/>
<ellipse cx="373" cy="348.3" rx="7" ry="5" stroke="#666" stroke-width="0.8" fill="none"/>
<line x1="365" y1="338.5" x2="365" y2="367.9" stroke="#999" stroke-width="0.7" stroke-linecap="butt"/>
<rect x="299.5" y="345.4" width="3.8000000000000114" height="22.5" stroke="#1c1c1c" stroke-width="1.3" fill="#fff"/>
<line x1="303.3" y1="345.4" x2="351.3" y2="345.4" stroke="#aaa" stroke-width="0.8" stroke-linecap="butt"/>
<line x1="304" y1="366.5" x2="350" y2="347" stroke="#666" stroke-width="0.6" stroke-linecap="butt"/>
<rect x="319" y="347.3" width="18.600000000000023" height="18.69999999999999" stroke="#ccc" stroke-width="0.5" fill="url(#hl)"/>
<line x1="433.3" y1="347.3" x2="433.3" y2="367.9" stroke="#333" stroke-width="1.4" stroke-linecap="butt"/>
<path d="M433.3,347.3 A26,26 0 0 1 459.7,367.9" stroke="#333" stroke-width="0.9" fill="none"/>
<rect x="292.1" y="367.9" width="139.29999999999995" height="7.800000000000011" stroke="#1c1c1c" stroke-width="1.6" fill="#fff"/>
<rect x="292.1" y="367.9" width="27.899999999999977" height="7.800000000000011" fill="url(#hd)" stroke="#333" stroke-width="0.8"/>
<rect x="399" y="367.9" width="18.69999999999999" height="7.800000000000011" fill="url(#hd)" stroke="#333" stroke-width="0.8"/>
<polygon points="461.6,367.9 630,367.9 630,365.3 762,365.3 762,399.4 751.9,399.4 751.9,375.4 461.6,375.4" stroke="#1c1c1c" stroke-width="1.6" fill="#fff" stroke-linejoin="miter"/>
<rect x="567.4" y="367.9" width="32.200000000000045" height="7.5" fill="url(#hd)" stroke="#333" stroke-width="0.8"/>
<line x1="630.4" y1="254.8" x2="630.4" y2="365" stroke="#888" stroke-width="0.8" stroke-linecap="butt"/>
<line x1="636.3" y1="254.8" x2="636.3" y2="365" stroke="#999" stroke-width="0.8" stroke-linecap="butt"/>
<line x1="638" y1="254.8" x2="638" y2="365" stroke="#999" stroke-width="0.8" stroke-linecap="butt"/>
<line x1="640.5" y1="254.8" x2="640.5" y2="365" stroke="#888" stroke-width="0.8" stroke-linecap="butt"/>
<rect x="635.3" y="255.3" width="3.7000000000000455" height="3.1999999999999886" fill="#111"/>
<rect x="635.3" y="289.5" width="3.7000000000000455" height="3.1999999999999886" fill="#111"/>
<rect x="635.3" y="326.5" width="3.7000000000000455" height="3.1999999999999886" fill="#111"/>
<rect x="635.3" y="361" width="3.7000000000000455" height="3.1999999999999886" fill="#111"/>
<line x1="660.4" y1="218.8" x2="660.4" y2="364.6" stroke="#c6c6c6" stroke-width="0.9" stroke-linecap="butt"/>
<line x1="683.6" y1="218.8" x2="683.6" y2="364.6" stroke="#c6c6c6" stroke-width="0.9" stroke-linecap="butt"/>
<line x1="706.8" y1="218.8" x2="706.8" y2="364.6" stroke="#c6c6c6" stroke-width="0.9" stroke-linecap="butt"/>
<line x1="730.0" y1="218.8" x2="730.0" y2="364.6" stroke="#c6c6c6" stroke-width="0.9" stroke-linecap="butt"/>
<line x1="753.1999999999999" y1="218.8" x2="753.1999999999999" y2="364.6" stroke="#c6c6c6" stroke-width="0.9" stroke-linecap="butt"/>
<line x1="776.4" y1="218.8" x2="776.4" y2="364.6" stroke="#c6c6c6" stroke-width="0.9" stroke-linecap="butt"/>
<line x1="799.5999999999999" y1="218.8" x2="799.5999999999999" y2="364.6" stroke="#c6c6c6" stroke-width="0.9" stroke-linecap="butt"/>
<line x1="640.5" y1="230.6" x2="805.5" y2="230.6" stroke="#c6c6c6" stroke-width="0.9" stroke-linecap="butt"/>
<line x1="640.5" y1="253.7" x2="805.5" y2="253.7" stroke="#c6c6c6" stroke-width="0.9" stroke-linecap="butt"/>
<line x1="640.5" y1="276.8" x2="805.5" y2="276.8" stroke="#c6c6c6" stroke-width="0.9" stroke-linecap="butt"/>
<line x1="640.5" y1="299.9" x2="805.5" y2="299.9" stroke="#c6c6c6" stroke-width="0.9" stroke-linecap="butt"/>
<line x1="640.5" y1="323.0" x2="805.5" y2="323.0" stroke="#c6c6c6" stroke-width="0.9" stroke-linecap="butt"/>
<line x1="640.5" y1="346.1" x2="805.5" y2="346.1" stroke="#c6c6c6" stroke-width="0.9" stroke-linecap="butt"/>
<path d="M634.3,221 L634.3,212.4 L811.4,212.4 L811.4,364.6 L805.5,364.6 L805.5,218.8 L640.4,218.8 L640.4,221 Z" fill="#e4e4e4" stroke="none"/>
<polyline points="634.3,221 634.3,212.4 811.4,212.4" stroke="#444" stroke-width="1.2" fill="none" stroke-linejoin="miter"/>
<polyline points="636.3,221 636.3,215.5 807.6,215.5 807.6,364.6" stroke="#999" stroke-width="0.8" fill="none" stroke-linejoin="miter"/>
<polyline points="640.4,218.8 805.5,218.8 805.5,364.6" stroke="#333" stroke-width="1.3" fill="none" stroke-linejoin="miter"/>
<line x1="811.4" y1="194.4" x2="811.4" y2="366" stroke="#1c1c1c" stroke-width="1.8" stroke-dasharray="10,2.5" stroke-linecap="butt"/>
<rect x="773" y="212.4" width="7" height="18.69999999999999" fill="url(#hd)" stroke="#333" stroke-width="0.8"/>
<rect x="773.4" y="356.9" width="6.899999999999977" height="18.30000000000001" fill="url(#hd)" stroke="#333" stroke-width="0.8"/>
<line x1="771.5" y1="399.4" x2="771.5" y2="501.3" stroke="#c6c6c6" stroke-width="0.9" stroke-linecap="butt"/>
<line x1="794.65" y1="399.4" x2="794.65" y2="607.2" stroke="#c6c6c6" stroke-width="0.9" stroke-linecap="butt"/>
<line x1="817.8" y1="399.4" x2="817.8" y2="607.2" stroke="#c6c6c6" stroke-width="0.9" stroke-linecap="butt"/>
<line x1="840.95" y1="399.4" x2="840.95" y2="607.2" stroke="#c6c6c6" stroke-width="0.9" stroke-linecap="butt"/>
<line x1="864.1" y1="399.4" x2="864.1" y2="607.2" stroke="#c6c6c6" stroke-width="0.9" stroke-linecap="butt"/>
<line x1="761" y1="422.4" x2="870.3" y2="422.4" stroke="#c6c6c6" stroke-width="0.9" stroke-linecap="butt"/>
<line x1="761" y1="445.29999999999995" x2="870.3" y2="445.29999999999995" stroke="#c6c6c6" stroke-width="0.9" stroke-linecap="butt"/>
<line x1="761" y1="468.2" x2="870.3" y2="468.2" stroke="#c6c6c6" stroke-width="0.9" stroke-linecap="butt"/>
<line x1="761" y1="491.09999999999997" x2="870.3" y2="491.09999999999997" stroke="#c6c6c6" stroke-width="0.9" stroke-linecap="butt"/>
<line x1="782.4" y1="514.0" x2="870.3" y2="514.0" stroke="#c6c6c6" stroke-width="0.9" stroke-linecap="butt"/>
<line x1="782.4" y1="536.9" x2="870.3" y2="536.9" stroke="#c6c6c6" stroke-width="0.9" stroke-linecap="butt"/>
<line x1="782.4" y1="559.8" x2="870.3" y2="559.8" stroke="#c6c6c6" stroke-width="0.9" stroke-linecap="butt"/>
<line x1="782.4" y1="582.6999999999999" x2="870.3" y2="582.6999999999999" stroke="#c6c6c6" stroke-width="0.9" stroke-linecap="butt"/>
<line x1="801.4" y1="399.4" x2="801.4" y2="607.2" stroke="#c9d3d6" stroke-width="0.8" stroke-dasharray="9,5" stroke-linecap="butt"/>
<line x1="855.7" y1="399.4" x2="855.7" y2="607.2" stroke="#c9d3d6" stroke-width="0.8" stroke-dasharray="9,5" stroke-linecap="butt"/>
<line x1="493.1" y1="194.4" x2="811.4" y2="194.4" stroke="#222" stroke-width="1.6" stroke-dasharray="7,5" stroke-linecap="butt"/>
<line x1="811" y1="365.8" x2="876" y2="365.8" stroke="#222" stroke-width="1.6" stroke-dasharray="7,5" stroke-linecap="butt"/>
<rect x="762" y="365.3" width="11" height="10.300000000000011" stroke="#1c1c1c" stroke-width="1.4" fill="#fff"/>
<rect x="773.4" y="356.9" width="6.899999999999977" height="18.30000000000001" fill="url(#hd)" stroke="#333" stroke-width="0.8"/>
<rect x="776.9" y="375.6" width="3.3999999999999773" height="23.799999999999955" stroke="#1c1c1c" stroke-width="1.2" fill="none"/>
<line x1="763" y1="398" x2="776" y2="377" stroke="#666" stroke-width="0.6" stroke-linecap="butt"/>
<rect x="780.3" y="368.9" width="90.30000000000007" height="30.5" stroke="#1c1c1c" stroke-width="1.3" fill="none"/>
<rect x="780.3" y="368.9" width="51.30000000000007" height="6.7000000000000455" stroke="#1c1c1c" stroke-width="1.3" fill="#fff"/>
<rect x="831.6" y="368.9" width="32.0" height="6.7000000000000455" stroke="#333" stroke-width="0.9" fill="url(#hl)"/>
<rect x="863.6" y="368.9" width="7.0" height="6.7000000000000455" stroke="#333" stroke-width="0.9" fill="none"/>
<polyline points="396.3,169.7 396.3,149 610,149 610,170 686,170 686,172.5 876,172.5 876,612.5" stroke="#333" stroke-width="1.3" fill="none" stroke-linejoin="miter"/>
<polyline points="401,169.7 401,153.75 605,153.75 605,174.5 682.5,174.5 682.5,177 871,177 871,607" stroke="#333" stroke-width="1.3" fill="none" stroke-linejoin="miter"/>
<polyline points="186.6,403.4 186.6,520.5 214.7,520.5 214.7,510 196.4,510 196.4,407.3" stroke="#1c1c1c" stroke-width="1.6" fill="none" stroke-linejoin="miter"/>
<rect x="264" y="510" width="48.80000000000001" height="10.5" stroke="#1c1c1c" stroke-width="1.6" fill="#fff"/>
<line x1="214.7" y1="510.5" x2="264" y2="510.5" stroke="#555" stroke-width="0.8" stroke-linecap="butt"/>
<line x1="214.7" y1="515.75" x2="264" y2="515.75" stroke="#888" stroke-width="0.8" stroke-linecap="butt"/>
<line x1="214.7" y1="519.0" x2="264" y2="519.0" stroke="#555" stroke-width="0.8" stroke-linecap="butt"/>
<rect x="215.7" y="513.15" width="2.5" height="4.2000000000000455" fill="#111"/>
<rect x="260.5" y="513.15" width="2.5" height="4.2000000000000455" fill="#111"/>
<rect x="238.15" y="513.15" width="2.3999999999999773" height="5.25" fill="#111"/>
<rect x="189.5" y="499.4" width="6.900000000000006" height="18.300000000000068" fill="url(#hd)" stroke="#333" stroke-width="0.8"/>
<rect x="314" y="499.4" width="6.199999999999989" height="18.300000000000068" fill="url(#hd)" stroke="#333" stroke-width="0.8"/>
<line x1="294.4" y1="375.7" x2="294.4" y2="510" stroke="#aaa" stroke-width="0.8" stroke-linecap="butt"/>
<line x1="310.9" y1="375.7" x2="296.1" y2="510" stroke="#999" stroke-width="0.6" stroke-linecap="butt"/>
<polyline points="188.6,520.5 188.6,611 312.8,611" stroke="#333" stroke-width="1" fill="none" stroke-linejoin="miter"/>
<line x1="186.6" y1="404.3" x2="284" y2="404.3" stroke="#111" stroke-width="2" stroke-linecap="butt"/>
<rect x="312.7" y="422.2" width="8.0" height="191.8" stroke="#1c1c1c" stroke-width="1.6" fill="#fff"/>
<rect x="312.7" y="422.2" width="55.80000000000001" height="7.900000000000034" stroke="#1c1c1c" stroke-width="1.6" fill="#fff"/>
<rect x="313.6" y="423.1" width="6.199999999999989" height="6.099999999999966" fill="#fff"/>
<rect x="312.7" y="422.2" width="8.0" height="19.400000000000034" fill="url(#hd)" stroke="#333" stroke-width="0.8"/>
<rect x="312.7" y="596" width="8.0" height="18" fill="url(#hd)" stroke="#333" stroke-width="0.8"/>
<rect x="313.3" y="499.2" width="7.399999999999977" height="18.500000000000057" fill="url(#hd)" stroke="#333" stroke-width="0.8"/>
<line x1="368.5" y1="430.1" x2="397.5" y2="430.1" stroke="#333" stroke-width="1" stroke-linecap="butt"/>
<rect x="395.5" y="423.5" width="2.5" height="3.0" fill="#111"/>
<rect x="395.5" y="447.5" width="2.5" height="3.0" fill="#111"/>
<path d="M369.6,424.7 A26,26 0 0 0 397,449.3" stroke="#333" stroke-width="0.9" fill="none"/>
<line x1="312.2" y1="375.7" x2="312.2" y2="422.2" stroke="#1c1c1c" stroke-width="1.3" stroke-linecap="butt"/>
<line x1="320.7" y1="375.7" x2="320.7" y2="422.2" stroke="#1c1c1c" stroke-width="1.3" stroke-linecap="butt"/>
<rect x="321" y="375.7" width="151.39999999999998" height="7.800000000000011" stroke="#ccc" stroke-width="0.5" fill="url(#hl)"/>
<rect x="321" y="383.5" width="7.800000000000011" height="38.69999999999999" stroke="#ccc" stroke-width="0.5" fill="url(#hl)"/>
<line x1="292" y1="375.7" x2="292" y2="394" stroke="#555" stroke-width="1.2" stroke-linecap="butt"/>
<line x1="294.8" y1="394" x2="305" y2="395" stroke="#1a1a1a" stroke-width="0" stroke-linecap="butt"/>
<rect x="398.8" y="422.6" width="7.899999999999977" height="70.69999999999999" fill="url(#hd)" stroke="#333" stroke-width="0.8"/>
<rect x="458.6" y="422.6" width="8.099999999999966" height="70.69999999999999" fill="url(#hd)" stroke="#333" stroke-width="0.8"/>
<rect x="398.8" y="485.5" width="67.89999999999998" height="7.800000000000011" fill="url(#hd)" stroke="#333" stroke-width="0.8"/>
<polyline points="398.8,422.6 398.8,493.3 466.7,493.3 466.7,422.6" stroke="#1c1c1c" stroke-width="1.6" fill="none" stroke-linejoin="miter"/>
<polyline points="406.7,422.6 406.7,485.5 458.6,485.5 458.6,422.6" stroke="#1c1c1c" stroke-width="1.3" fill="none" stroke-linejoin="miter"/>
<line x1="406.7" y1="430.2" x2="458.6" y2="430.2" stroke="#333" stroke-width="1.2" stroke-linecap="butt"/>
<rect x="409.5" y="431" width="6.5" height="6.5" stroke="#555" stroke-width="0.8" fill="#ddd"/>
<rect x="442.5" y="431" width="12.5" height="6.5" stroke="#555" stroke-width="0.8" fill="#ddd"/>
<line x1="416" y1="433.5" x2="442.5" y2="433.5" stroke="#222" stroke-width="1.6" stroke-linecap="butt"/>
<polyline points="415,439.8 415,480.7 449,480.7 449,439.8" stroke="#1c1c1c" stroke-width="1.5" fill="none" stroke-linejoin="miter"/>
<rect x="452.9" y="444.5" width="5.2000000000000455" height="29.100000000000023" stroke="#444" stroke-width="0.8" fill="#fff"/>
<line x1="407.2" y1="405" x2="407.2" y2="422.6" stroke="#444" stroke-width="1" stroke-linecap="butt"/>
<line x1="447.6" y1="405" x2="447.6" y2="430.2" stroke="#444" stroke-width="1" stroke-linecap="butt"/>
<polyline points="466.6,422.6 472.8,422.6 472.8,405.5 479.6,405.5 479.6,428.7" stroke="#1c1c1c" stroke-width="1.6" fill="none" stroke-linejoin="miter"/>
<line x1="321" y1="484.0" x2="397.5" y2="484.0" stroke="#aaa" stroke-width="0.7" stroke-linecap="butt"/>
<line x1="321" y1="491.6" x2="397.5" y2="491.6" stroke="#aaa" stroke-width="0.7" stroke-linecap="butt"/>
<line x1="321" y1="499.2" x2="397.5" y2="499.2" stroke="#aaa" stroke-width="0.7" stroke-linecap="butt"/>
<line x1="321" y1="506.8" x2="397.5" y2="506.8" stroke="#aaa" stroke-width="0.7" stroke-linecap="butt"/>
<line x1="321" y1="514.4" x2="397.5" y2="514.4" stroke="#aaa" stroke-width="0.7" stroke-linecap="butt"/>
<line x1="321" y1="522.0" x2="397.5" y2="522.0" stroke="#aaa" stroke-width="0.7" stroke-linecap="butt"/>
<line x1="321" y1="529.6" x2="397.5" y2="529.6" stroke="#aaa" stroke-width="0.7" stroke-linecap="butt"/>
<line x1="321" y1="537.2" x2="397.5" y2="537.2" stroke="#aaa" stroke-width="0.7" stroke-linecap="butt"/>
<line x1="321" y1="544.8" x2="397.5" y2="544.8" stroke="#aaa" stroke-width="0.7" stroke-linecap="butt"/>
<line x1="321" y1="552.4" x2="397.5" y2="552.4" stroke="#aaa" stroke-width="0.7" stroke-linecap="butt"/>
<line x1="321" y1="560.0" x2="397.5" y2="560.0" stroke="#aaa" stroke-width="0.7" stroke-linecap="butt"/>
<line x1="321" y1="567.6" x2="397.5" y2="567.6" stroke="#aaa" stroke-width="0.7" stroke-linecap="butt"/>
<line x1="321" y1="575.2" x2="397.5" y2="575.2" stroke="#aaa" stroke-width="0.7" stroke-linecap="butt"/>
<line x1="321" y1="582.8" x2="397.5" y2="582.8" stroke="#aaa" stroke-width="0.7" stroke-linecap="butt"/>
<rect x="326.4" y="471.4" width="28.100000000000023" height="12.300000000000011" stroke="#888" stroke-width="0.8" fill="#fff"/>
<rect x="365.4" y="471.4" width="27.700000000000045" height="12.300000000000011" stroke="#888" stroke-width="0.8" fill="#fff"/>
<line x1="326.4" y1="473.84999999999997" x2="354.5" y2="473.84999999999997" stroke="#888" stroke-width="0.5" stroke-linecap="butt"/>
<line x1="365.4" y1="473.84999999999997" x2="393.1" y2="473.84999999999997" stroke="#888" stroke-width="0.5" stroke-linecap="butt"/>
<line x1="326.4" y1="476.29999999999995" x2="354.5" y2="476.29999999999995" stroke="#888" stroke-width="0.5" stroke-linecap="butt"/>
<line x1="365.4" y1="476.29999999999995" x2="393.1" y2="476.29999999999995" stroke="#888" stroke-width="0.5" stroke-linecap="butt"/>
<line x1="326.4" y1="478.75" x2="354.5" y2="478.75" stroke="#888" stroke-width="0.5" stroke-linecap="butt"/>
<line x1="365.4" y1="478.75" x2="393.1" y2="478.75" stroke="#888" stroke-width="0.5" stroke-linecap="butt"/>
<line x1="326.4" y1="481.2" x2="354.5" y2="481.2" stroke="#888" stroke-width="0.5" stroke-linecap="butt"/>
<line x1="365.4" y1="481.2" x2="393.1" y2="481.2" stroke="#888" stroke-width="0.5" stroke-linecap="butt"/>
<line x1="359.5" y1="484" x2="359.5" y2="565" stroke="#ccc" stroke-width="1" stroke-linecap="butt"/>
<line x1="379" y1="484" x2="379" y2="586" stroke="#888" stroke-width="0.8" stroke-linecap="butt"/>
<line x1="341" y1="585.5" x2="379" y2="585.5" stroke="#888" stroke-width="0.8" stroke-linecap="butt"/>
<rect x="322" y="432" width="74.5" height="172.5" rx="3" fill="none" stroke="#999" stroke-width="0.7"/>
<rect x="323" y="433" width="30.600000000000023" height="22.600000000000023" stroke="#999" stroke-width="0.7" fill="url(#hl)"/>
<polygon points="340.4,467 336.8,477 344,477" fill="#111"/>
<polygon points="340.4,525 336.8,535 344,535" fill="#111"/>
<rect x="398.9" y="493.3" width="7.800000000000011" height="120.69999999999999" stroke="#1c1c1c" stroke-width="1.6" fill="#fff"/>
<rect x="398.9" y="564" width="7.800000000000011" height="50" fill="url(#hd)" stroke="#333" stroke-width="0.8"/>
<rect x="463" y="493.3" width="3.8999999999999773" height="17.94999999999999" stroke="#1c1c1c" stroke-width="1.2" fill="#fff"/>
<line x1="406.7" y1="511.25" x2="463" y2="511.25" stroke="#aaa" stroke-width="0.9" stroke-linecap="butt"/>
<line x1="407" y1="510.5" x2="463" y2="495" stroke="#555" stroke-width="0.6" stroke-linecap="butt"/>
<rect x="479.6" y="413.7" width="68.39999999999998" height="13.699999999999989" stroke="#1c1c1c" stroke-width="1.5" fill="none"/>
<rect x="544.6" y="413.7" width="3.3999999999999773" height="38.30000000000001" stroke="#1c1c1c" stroke-width="1.2" fill="#fff"/>
<line x1="482" y1="426" x2="544" y2="414.5" stroke="#555" stroke-width="0.6" stroke-linecap="butt"/>
<rect x="466" y="428.7" width="82" height="2.1000000000000227" stroke="#1c1c1c" stroke-width="1.3" fill="#fff"/>
<rect x="507.7" y="430.8" width="3.3000000000000114" height="80.44999999999999" stroke="#1c1c1c" stroke-width="1.2" fill="#fff"/>
<rect x="469" y="432" width="36" height="22.69999999999999" stroke="#aaa" stroke-width="0.6" fill="none"/>
<line x1="470" y1="453" x2="504" y2="433" stroke="#777" stroke-width="0.6" stroke-linecap="butt"/>
<rect x="511" y="430.8" width="31.5" height="21.19999999999999" stroke="#bbb" stroke-width="0.6" fill="url(#hl)"/>
<line x1="512" y1="451" x2="542" y2="432" stroke="#777" stroke-width="0.6" stroke-linecap="butt"/>
<ellipse cx="494.7" cy="469.8" rx="6.5" ry="4.5" stroke="#666" stroke-width="0.8" fill="none"/>
<rect x="499" y="465" width="6" height="10" stroke="#888" stroke-width="0.6" fill="none"/>
<ellipse cx="500" cy="491.7" rx="5.5" ry="7" stroke="#777" stroke-width="0.8" fill="none"/>
<rect x="466.6" y="430.8" width="2.3999999999999773" height="62.5" stroke="#444" stroke-width="0.8" fill="none"/>
<rect x="467" y="487" width="3" height="3.5" fill="#111"/>
<rect x="467" y="507.5" width="3" height="3.0" fill="#111"/>
<line x1="468.6" y1="489" x2="468.6" y2="509" stroke="#888" stroke-width="1" stroke-linecap="butt"/>
<path d="M468.4,487 A23,23 0 0 1 492.7,509.7" stroke="#333" stroke-width="0.9" fill="none"/>
<rect x="492.7" y="508.9" width="18.69999999999999" height="2.7000000000000455" stroke="#1c1c1c" stroke-width="1.4" fill="#fff"/>
<line x1="483.3" y1="513.6" x2="509.8" y2="513.6" stroke="#999" stroke-width="1" stroke-linecap="butt"/>
<rect x="482" y="512" width="4" height="3" fill="#111"/>
<rect x="507" y="512" width="4" height="3" fill="#111"/>
<path d="M483.3,513.6 A27,27 0 0 0 509.8,541" stroke="#333" stroke-width="0.9" fill="none"/>
<rect x="507" y="541" width="4.25" height="65.29999999999995" stroke="#1c1c1c" stroke-width="1.3" fill="#fff"/>
<rect x="508" y="543" width="3" height="3" fill="#111"/>
<rect x="508" y="563" width="3" height="3" fill="#111"/>
<rect x="539" y="542" width="50.39999999999998" height="3.2000000000000455" stroke="#1c1c1c" stroke-width="1.3" fill="#fff"/>
<rect x="567.5" y="545.2" width="3.6000000000000227" height="61.09999999999991" stroke="#1c1c1c" stroke-width="1.2" fill="#fff"/>
<line x1="588.3" y1="545.2" x2="588.3" y2="606.3" stroke="#444" stroke-width="0.9" stroke-linecap="butt"/>
<line x1="571.1" y1="606" x2="588.3" y2="548" stroke="#555" stroke-width="0.6" stroke-linecap="butt"/>
<rect x="571.9" y="552.2" width="4.350000000000023" height="19.5" fill="url(#hd)" stroke="#333" stroke-width="0.8"/>
<ellipse cx="526.6" cy="593.6" rx="5.5" ry="6.5" stroke="#666" stroke-width="0.8" fill="none"/>
<rect x="521" y="599" width="11" height="6" stroke="#999" stroke-width="0.6" fill="none"/>
<ellipse cx="559.4" cy="559.2" rx="7" ry="8" stroke="#777" stroke-width="0.8" fill="none"/>
<rect x="542" y="581.9" width="23.299999999999955" height="21.850000000000023" stroke="#aaa" stroke-width="0.6" fill="none"/>
<line x1="545" y1="583" x2="564" y2="603" stroke="#666" stroke-width="0.6" stroke-linecap="butt"/>
<path d="M539,545 A30,30 0 0 1 511.5,563" stroke="#333" stroke-width="0.9" fill="none"/>
<path d="M518,579 A12,12 0 0 0 540,577" stroke="#ccc" stroke-width="0.9" fill="none"/>
<polyline points="544.5,508 690.2,508 690.2,597.3" stroke="#1c1c1c" stroke-width="1.4" fill="none" stroke-linejoin="miter"/>
<polyline points="544.5,511.2 687.2,511.2 687.2,606.3" stroke="#1c1c1c" stroke-width="1.4" fill="none" stroke-linejoin="miter"/>
<line x1="544.5" y1="508" x2="544.5" y2="511.2" stroke="#1c1c1c" stroke-width="1.4" stroke-linecap="butt"/>
<rect x="565" y="511" width="4" height="3" fill="#111"/>
<rect x="592" y="511" width="4" height="3" fill="#111"/>
<path d="M595,513 A27,27 0 0 1 567.5,540" stroke="#333" stroke-width="0.9" fill="none"/>
<rect x="312.7" y="606.3" width="26.30000000000001" height="7.7000000000000455" stroke="#1c1c1c" stroke-width="1.6" fill="#fff"/>
<line x1="339" y1="606.8" x2="372.5" y2="606.8" stroke="#555" stroke-width="0.8" stroke-linecap="butt"/>
<line x1="339" y1="610.65" x2="372.5" y2="610.65" stroke="#888" stroke-width="0.8" stroke-linecap="butt"/>
<line x1="339" y1="612.5" x2="372.5" y2="612.5" stroke="#555" stroke-width="0.8" stroke-linecap="butt"/>
<rect x="340" y="608.61" width="2.5" height="3.0799999999999272" fill="#111"/>
<rect x="369.0" y="608.61" width="2.5" height="3.0799999999999272" fill="#111"/>
<rect x="354.55" y="608.61" width="2.3999999999999773" height="3.8500000000000227" fill="#111"/>
<rect x="372.5" y="606.3" width="26.399999999999977" height="7.7000000000000455" stroke="#1c1c1c" stroke-width="1.6" fill="#fff"/>
<rect x="406.7" y="606.3" width="20.80000000000001" height="9.5" stroke="#1c1c1c" stroke-width="1.6" fill="#fff"/>
<line x1="427.5" y1="606.8" x2="476" y2="606.8" stroke="#555" stroke-width="0.8" stroke-linecap="butt"/>
<line x1="427.5" y1="611.55" x2="476" y2="611.55" stroke="#888" stroke-width="0.8" stroke-linecap="butt"/>
<line x1="427.5" y1="614.3" x2="476" y2="614.3" stroke="#555" stroke-width="0.8" stroke-linecap="butt"/>
<rect x="428.5" y="609.15" width="2.5" height="3.7999999999999545" fill="#111"/>
<rect x="472.5" y="609.15" width="2.5" height="3.7999999999999545" fill="#111"/>
<rect x="450.55" y="609.15" width="2.3999999999999773" height="4.75" fill="#111"/>
<rect x="476" y="606.3" width="40.39999999999998" height="9.5" stroke="#1c1c1c" stroke-width="1.6" fill="#fff"/>
<line x1="516.4" y1="606.8" x2="535.2" y2="606.8" stroke="#555" stroke-width="0.8" stroke-linecap="butt"/>
<line x1="516.4" y1="611.55" x2="535.2" y2="611.55" stroke="#888" stroke-width="0.8" stroke-linecap="butt"/>
<line x1="516.4" y1="614.3" x2="535.2" y2="614.3" stroke="#555" stroke-width="0.8" stroke-linecap="butt"/>
<rect x="517.4" y="609.15" width="2.5" height="3.7999999999999545" fill="#111"/>
<rect x="531.7" y="609.15" width="2.5" height="3.7999999999999545" fill="#111"/>
<rect x="524.5999999999999" y="609.15" width="2.400000000000091" height="4.75" fill="#111"/>
<rect x="535.2" y="606.3" width="56.69999999999993" height="9.5" stroke="#1c1c1c" stroke-width="1.6" fill="#fff"/>
<line x1="591.9" y1="606.8" x2="641.4" y2="606.8" stroke="#555" stroke-width="0.8" stroke-linecap="butt"/>
<line x1="591.9" y1="611.55" x2="641.4" y2="611.55" stroke="#888" stroke-width="0.8" stroke-linecap="butt"/>
<line x1="591.9" y1="614.3" x2="641.4" y2="614.3" stroke="#555" stroke-width="0.8" stroke-linecap="butt"/>
<rect x="592.9" y="609.15" width="2.5" height="3.7999999999999545" fill="#111"/>
<rect x="637.9" y="609.15" width="2.5" height="3.7999999999999545" fill="#111"/>
<rect x="615.4499999999999" y="609.15" width="2.400000000000091" height="4.75" fill="#111"/>
<polygon points="641.4,606.3 687.1,606.3 687.1,597.3 711.9,597.3 711.9,607.6 697.3,607.6 697.3,616.1 641.4,616.1" stroke="#1c1c1c" stroke-width="1.6" fill="#fff" stroke-linejoin="miter"/>
<line x1="711.9" y1="597.8" x2="748" y2="597.8" stroke="#555" stroke-width="0.8" stroke-linecap="butt"/>
<line x1="711.9" y1="602.95" x2="748" y2="602.95" stroke="#888" stroke-width="0.8" stroke-linecap="butt"/>
<line x1="711.9" y1="606.1" x2="748" y2="606.1" stroke="#555" stroke-width="0.8" stroke-linecap="butt"/>
<rect x="712.9" y="600.39" width="2.5" height="4.1200000000000045" fill="#111"/>
<rect x="744.5" y="600.39" width="2.5" height="4.1200000000000045" fill="#111"/>
<rect x="728.75" y="600.39" width="2.400000000000091" height="5.149999999999977" fill="#111"/>
<polygon points="748,597.3 772.8,597.3 772.8,511.6 751.5,511.6 751.5,501.3 782.4,501.3 782.4,607.6 748,607.6" stroke="#1c1c1c" stroke-width="1.6" fill="#fff" stroke-linejoin="miter"/>
<rect x="773.4" y="546.7" width="7.600000000000023" height="24.899999999999977" fill="url(#hd)" stroke="#333" stroke-width="0.8"/>
<line x1="697.3" y1="614.5" x2="876" y2="614.5" stroke="#222" stroke-width="1.3" stroke-linecap="butt"/>
<line x1="711.9" y1="609.2" x2="748" y2="609.2" stroke="#666" stroke-width="0.8" stroke-linecap="butt"/>
<line x1="782.4" y1="609.5" x2="870" y2="609.5" stroke="#aaa" stroke-width="0.8" stroke-linecap="butt"/>
<line x1="782.4" y1="607.2" x2="870.3" y2="607.2" stroke="#333" stroke-width="1.2" stroke-linecap="butt"/>
<line x1="754.5" y1="534.6" x2="754.5" y2="579.2" stroke="#aaa" stroke-width="0.8" stroke-linecap="butt"/>
<line x1="691" y1="579.2" x2="754.5" y2="579.2" stroke="#aaa" stroke-width="0.8" stroke-linecap="butt"/>
<rect x="755.6" y="555.8" width="15.5" height="18.100000000000023" stroke="#777" stroke-width="0.8" fill="none"/>
<circle cx="759.5" cy="561" r="1.6" stroke="#666" stroke-width="0.7" fill="none"/>
<circle cx="767" cy="561" r="1.6" stroke="#666" stroke-width="0.7" fill="none"/>
<circle cx="759.5" cy="568" r="1.6" stroke="#666" stroke-width="0.7" fill="none"/>
<circle cx="767" cy="568" r="1.6" stroke="#666" stroke-width="0.7" fill="none"/>
<rect x="709.9" y="579.2" width="31.700000000000045" height="17.399999999999977" stroke="#888" stroke-width="0.8" fill="none"/>
<circle cx="719" cy="588" r="6.5" stroke="#555" stroke-width="0.9" fill="none"/>
<rect x="728" y="582" width="12" height="13" stroke="#888" stroke-width="0.7" fill="none"/>
<rect x="755.4" y="399.4" width="5.600000000000023" height="101.90000000000003" stroke="#333" stroke-width="1" fill="#fff"/>
<rect x="755.5" y="448.5" width="4.5" height="3.5" fill="#111"/>
<line x1="870.3" y1="399.4" x2="870.3" y2="607.2" stroke="#222" stroke-width="1.4" stroke-linecap="butt"/>
<line x1="473.7" y1="377.3" x2="500" y2="377.3" stroke="#999" stroke-width="1" stroke-linecap="butt"/>
<rect x="472.5" y="376" width="3.5" height="3" fill="#111"/>
<rect x="497.5" y="376" width="3.5" height="3" fill="#111"/>
<path d="M500,377.3 A26.3,26.3 0 0 1 475.6,404.3" stroke="#333" stroke-width="0.9" fill="none"/>
<g style="mix-blend-mode:multiply">
<text x="447" y="452.5" font-family="Liberation Sans, sans-serif" font-size="52" fill="#ececec" textLength="30" lengthAdjust="spacingAndGlyphs">K</text>
<text x="477" y="452.5" font-family="Liberation Sans, sans-serif" font-size="52" fill="#efe7d2" textLength="30" lengthAdjust="spacingAndGlyphs">A</text>
<text x="511" y="452.5" font-family="Liberation Sans, sans-serif" font-size="52" fill="#b4b4b4" textLength="28" lengthAdjust="spacingAndGlyphs">D</text>
<text x="555" y="452.5" font-family="Liberation Sans, sans-serif" font-size="52" fill="#b4b4b4" textLength="24" lengthAdjust="spacingAndGlyphs">S</text>
<text x="473" y="475.5" font-family="Liberation Sans, sans-serif" font-size="15.5" fill="#c2c2c2" textLength="77" lengthAdjust="spacing">ESTATES</text>
</g>
<circle cx="431" cy="399" r="23" fill="none" stroke="#333" stroke-width="1" stroke-dasharray="5,3"/>
<path d="M408,376.6 L408,422 M454.7,376.6 L454.7,422 M408,376.6 L454.7,376.6" fill="none" stroke="#c04050" stroke-width="0.9" stroke-dasharray="4,3"/>
<circle cx="430" cy="403" r="8" fill="none" stroke="#333" stroke-width="1.3"/>
<path d="M428,389 L431,389 L433,398 L440,398 L442,405 M431,393 L438,393" fill="none" stroke="#444" stroke-width="1.1"/>
<circle cx="429" cy="386" r="1.6" fill="none" stroke="#444" stroke-width="0.9"/>
<text x="431.40" y="386.14" font-family="Liberation Sans, sans-serif" font-size="7.5" text-anchor="middle" font-weight="normal" font-style="normal" fill="#111" transform="translate(431.40,386.14) scale(0.95,1) translate(-431.40,-386.14)" stroke="#111" stroke-width="0.2">1.50</text>
<path d="M800.4,387.5 Q805.7,388.5 810.4,387.5" stroke="#a8a8a8" stroke-width="0.7" fill="none"/>
<path d="M800.4,387.5 Q806.8,390.8 813.6,391.1" stroke="#a8a8a8" stroke-width="0.7" fill="none"/>
<path d="M800.4,387.5 Q803.6,390.9 808.1,392.3" stroke="#a8a8a8" stroke-width="0.7" fill="none"/>
<path d="M800.4,387.5 Q802.5,393.1 807.4,396.6" stroke="#a8a8a8" stroke-width="0.7" fill="none"/>
<path d="M800.4,387.5 Q800.0,391.6 802.1,394.9" stroke="#a8a8a8" stroke-width="0.7" fill="none"/>
<path d="M800.4,387.5 Q797.2,392.8 798.0,397.8" stroke="#a8a8a8" stroke-width="0.7" fill="none"/>
<path d="M800.4,387.5 Q796.6,390.5 795.4,394.0" stroke="#a8a8a8" stroke-width="0.7" fill="none"/>
<path d="M800.4,387.5 Q793.5,390.0 789.7,394.2" stroke="#a8a8a8" stroke-width="0.7" fill="none"/>
<path d="M800.4,387.5 Q794.9,387.9 791.0,390.1" stroke="#a8a8a8" stroke-width="0.7" fill="none"/>
<path d="M800.4,387.5 Q792.9,386.1 786.4,387.5" stroke="#a8a8a8" stroke-width="0.7" fill="none"/>
<path d="M800.4,387.5 Q795.9,385.2 791.0,384.9" stroke="#a8a8a8" stroke-width="0.7" fill="none"/>
<path d="M800.4,387.5 Q795.9,382.8 789.7,380.8" stroke="#a8a8a8" stroke-width="0.7" fill="none"/>
<path d="M800.4,387.5 Q798.9,383.5 795.4,381.0" stroke="#a8a8a8" stroke-width="0.7" fill="none"/>
<path d="M800.4,387.5 Q801.0,381.7 798.0,377.2" stroke="#a8a8a8" stroke-width="0.7" fill="none"/>
<path d="M800.4,387.5 Q802.7,383.7 802.1,380.1" stroke="#a8a8a8" stroke-width="0.7" fill="none"/>
<path d="M800.4,387.5 Q805.8,383.4 807.4,378.4" stroke="#a8a8a8" stroke-width="0.7" fill="none"/>
<path d="M800.4,387.5 Q805.4,385.7 808.1,382.7" stroke="#a8a8a8" stroke-width="0.7" fill="none"/>
<path d="M800.4,387.5 Q808.1,386.9 813.6,383.9" stroke="#a8a8a8" stroke-width="0.7" fill="none"/>
<path d="M824.8,387.5 Q830.0,388.9 834.8,388.2" stroke="#a8a8a8" stroke-width="0.7" fill="none"/>
<path d="M824.8,387.5 Q830.7,391.2 837.4,392.1" stroke="#a8a8a8" stroke-width="0.7" fill="none"/>
<path d="M824.8,387.5 Q827.5,391.1 831.8,392.9" stroke="#a8a8a8" stroke-width="0.7" fill="none"/>
<path d="M824.8,387.5 Q826.1,393.2 830.6,397.1" stroke="#a8a8a8" stroke-width="0.7" fill="none"/>
<path d="M824.8,387.5 Q823.8,391.6 825.5,395.0" stroke="#a8a8a8" stroke-width="0.7" fill="none"/>
<path d="M824.8,387.5 Q820.9,392.5 821.0,397.6" stroke="#a8a8a8" stroke-width="0.7" fill="none"/>
<path d="M824.8,387.5 Q820.6,390.1 819.0,393.6" stroke="#a8a8a8" stroke-width="0.7" fill="none"/>
<path d="M824.8,387.5 Q817.6,389.5 813.2,393.4" stroke="#a8a8a8" stroke-width="0.7" fill="none"/>
<path d="M824.8,387.5 Q819.3,387.5 815.1,389.3" stroke="#a8a8a8" stroke-width="0.7" fill="none"/>
<path d="M824.8,387.5 Q817.6,385.5 810.9,386.5" stroke="#a8a8a8" stroke-width="0.7" fill="none"/>
<path d="M824.8,387.5 Q820.6,384.8 815.8,384.2" stroke="#a8a8a8" stroke-width="0.7" fill="none"/>
<path d="M824.8,387.5 Q821.0,382.5 815.0,380.0" stroke="#a8a8a8" stroke-width="0.7" fill="none"/>
<path d="M824.8,387.5 Q823.8,383.4 820.7,380.7" stroke="#a8a8a8" stroke-width="0.7" fill="none"/>
<path d="M824.8,387.5 Q826.1,381.8 823.8,377.0" stroke="#a8a8a8" stroke-width="0.7" fill="none"/>
<path d="M824.8,387.5 Q827.6,383.9 827.5,380.3" stroke="#a8a8a8" stroke-width="0.7" fill="none"/>
<path d="M824.8,387.5 Q830.7,383.8 833.0,379.0" stroke="#a8a8a8" stroke-width="0.7" fill="none"/>
<path d="M824.8,387.5 Q830.0,386.1 833.1,383.3" stroke="#a8a8a8" stroke-width="0.7" fill="none"/>
<path d="M824.8,387.5 Q832.5,387.5 838.4,384.9" stroke="#a8a8a8" stroke-width="0.7" fill="none"/>
<path d="M850.2,387.5 Q855.4,388.9 860.2,388.2" stroke="#a8a8a8" stroke-width="0.7" fill="none"/>
<path d="M850.2,387.5 Q856.1,391.2 862.8,392.1" stroke="#a8a8a8" stroke-width="0.7" fill="none"/>
<path d="M850.2,387.5 Q852.9,391.1 857.2,392.9" stroke="#a8a8a8" stroke-width="0.7" fill="none"/>
<path d="M850.2,387.5 Q851.5,393.2 856.0,397.1" stroke="#a8a8a8" stroke-width="0.7" fill="none"/>
<path d="M850.2,387.5 Q849.2,391.6 850.9,395.0" stroke="#a8a8a8" stroke-width="0.7" fill="none"/>
<path d="M850.2,387.5 Q846.3,392.5 846.4,397.6" stroke="#a8a8a8" stroke-width="0.7" fill="none"/>
<path d="M850.2,387.5 Q846.0,390.1 844.4,393.6" stroke="#a8a8a8" stroke-width="0.7" fill="none"/>
<path d="M850.2,387.5 Q843.0,389.5 838.6,393.4" stroke="#a8a8a8" stroke-width="0.7" fill="none"/>
<path d="M850.2,387.5 Q844.7,387.5 840.5,389.3" stroke="#a8a8a8" stroke-width="0.7" fill="none"/>
<path d="M850.2,387.5 Q843.0,385.5 836.3,386.5" stroke="#a8a8a8" stroke-width="0.7" fill="none"/>
<path d="M850.2,387.5 Q846.0,384.8 841.2,384.2" stroke="#a8a8a8" stroke-width="0.7" fill="none"/>
<path d="M850.2,387.5 Q846.4,382.5 840.4,380.0" stroke="#a8a8a8" stroke-width="0.7" fill="none"/>
<path d="M850.2,387.5 Q849.2,383.4 846.1,380.7" stroke="#a8a8a8" stroke-width="0.7" fill="none"/>
<path d="M850.2,387.5 Q851.5,381.8 849.2,377.0" stroke="#a8a8a8" stroke-width="0.7" fill="none"/>
<path d="M850.2,387.5 Q853.0,383.9 852.9,380.3" stroke="#a8a8a8" stroke-width="0.7" fill="none"/>
<path d="M850.2,387.5 Q856.1,383.8 858.4,379.0" stroke="#a8a8a8" stroke-width="0.7" fill="none"/>
<path d="M850.2,387.5 Q855.4,386.1 858.5,383.3" stroke="#a8a8a8" stroke-width="0.7" fill="none"/>
<path d="M850.2,387.5 Q857.9,387.5 863.8,384.9" stroke="#a8a8a8" stroke-width="0.7" fill="none"/>
<line x1="834" y1="374.5" x2="837" y2="370" stroke="#333" stroke-width="1.1" stroke-linecap="butt"/>
<line x1="839" y1="374.5" x2="842" y2="370" stroke="#333" stroke-width="1.1" stroke-linecap="butt"/>
<line x1="844" y1="374.5" x2="847" y2="370" stroke="#333" stroke-width="1.1" stroke-linecap="butt"/>
<line x1="849" y1="374.5" x2="852" y2="370" stroke="#333" stroke-width="1.1" stroke-linecap="butt"/>
<line x1="854" y1="374.5" x2="857" y2="370" stroke="#333" stroke-width="1.1" stroke-linecap="butt"/>
<line x1="859" y1="374.5" x2="862" y2="370" stroke="#333" stroke-width="1.1" stroke-linecap="butt"/>
<line x1="186.6" y1="404.3" x2="1012.9" y2="404.3" stroke="#111" stroke-width="2" stroke-dasharray="24,10,2,10" stroke-dashoffset="17.1"/>
<line x1="186.6" y1="404.3" x2="1012.9" y2="404.3" stroke="none"/>
<line x1="341" y1="147.2" x2="341" y2="675.3" stroke="#111" stroke-width="2.2" stroke-dasharray="24,10,2,10" stroke-dashoffset="23.6"/>
<polyline points="345.8,131.1 341,131.1 341,147.2" stroke="#111" stroke-width="2" fill="none" stroke-linejoin="miter"/>
<polyline points="345.8,691.3 341,691.3 341,675.3" stroke="#111" stroke-width="2" fill="none" stroke-linejoin="miter"/>
<polyline points="1012.9,400.4 1012.9,404.3 997.4,404.3" stroke="#111" stroke-width="2" fill="none" stroke-linejoin="miter"/>
<polyline points="131,400.9 131,404.3 151,404.3" stroke="#111" stroke-width="2" fill="none" stroke-linejoin="miter"/>
<line x1="166" y1="404.3" x2="186.6" y2="404.3" stroke="#111" stroke-width="2" stroke-linecap="butt"/>
<polygon points="496.25,67.9 523.6,67.9 510.1,81.6" fill="#111" stroke="#111" stroke-width="1.3" stroke-linejoin="round"/>
<circle cx="510.1" cy="67.7" r="7.4" fill="#fff" stroke="#111" stroke-width="1.5"/>
<text x="510.10" y="72.17" font-family="Liberation Sans, sans-serif" font-size="11" text-anchor="middle" font-weight="bold" font-style="normal" fill="#111" transform="translate(510.10,72.17) scale(0.95,1) translate(-510.10,-72.17)" stroke="#111" stroke-width="0.3">4</text>
<polygon points="131,379.3 117.4,393.2 144.7,393.2" fill="#444" stroke="#111" stroke-width="1.3" stroke-linejoin="round"/>
<circle cx="131" cy="393.4" r="7.3" fill="#fff" stroke="#111" stroke-width="1.5"/>
<text x="131.00" y="397.52" font-family="Liberation Sans, sans-serif" font-size="10" text-anchor="middle" font-weight="bold" font-style="normal" fill="#111" transform="translate(131.00,397.52) scale(0.95,1) translate(-131.00,-397.52)" stroke="#111" stroke-width="0.3">A</text>
<polygon points="1012.9,380 1000.3,392.7 1025.5,392.7" fill="#444" stroke="#111" stroke-width="1.3" stroke-linejoin="round"/>
<circle cx="1012.9" cy="393.4" r="7" fill="#fff" stroke="#111" stroke-width="1.5"/>
<text x="1012.90" y="397.52" font-family="Liberation Sans, sans-serif" font-size="10" text-anchor="middle" font-weight="bold" font-style="normal" fill="#111" transform="translate(1012.90,397.52) scale(0.95,1) translate(-1012.90,-397.52)" stroke="#111" stroke-width="0.3">A</text>
<polygon points="352.4,118.2 352.4,144.8 366.1,131.1" fill="#666" stroke="#111" stroke-width="1.3" stroke-linejoin="round"/>
<circle cx="352.4" cy="131.1" r="6.6" fill="#fff" stroke="#111" stroke-width="1.5"/>
<text x="352.40" y="135.22" font-family="Liberation Sans, sans-serif" font-size="10" text-anchor="middle" font-weight="bold" font-style="normal" fill="#111" transform="translate(352.40,135.22) scale(0.95,1) translate(-352.40,-135.22)" stroke="#111" stroke-width="0.3">B</text>
<polygon points="352.7,678 352.7,704.7 366,691.3" fill="#666" stroke="#111" stroke-width="1.3" stroke-linejoin="round"/>
<circle cx="352.3" cy="691.3" r="6.6" fill="#fff" stroke="#111" stroke-width="1.5"/>
<text x="352.30" y="695.42" font-family="Liberation Sans, sans-serif" font-size="10" text-anchor="middle" font-weight="bold" font-style="normal" fill="#111" transform="translate(352.30,695.42) scale(0.95,1) translate(-352.30,-695.42)" stroke="#111" stroke-width="0.3">B</text>
<polygon points="902.8,424.7 902.8,450.3 889.6,437.4" fill="#555" stroke="#111" stroke-width="1.3" stroke-linejoin="round"/>
<circle cx="903.2" cy="437.4" r="7" fill="#fff" stroke="#111" stroke-width="1.5"/>
<text x="903.20" y="441.87" font-family="Liberation Sans, sans-serif" font-size="11" text-anchor="middle" font-weight="bold" font-style="normal" fill="#111" transform="translate(903.20,441.87) scale(0.95,1) translate(-903.20,-441.87)" stroke="#111" stroke-width="0.3">1</text>
<polygon points="531.3,659.1 517.9,672.6 544.8,672.6" fill="#666" stroke="#111" stroke-width="1.3" stroke-linejoin="round"/>
<circle cx="531.3" cy="673.4" r="7.2" fill="#fff" stroke="#111" stroke-width="1.5"/>
<text x="531.30" y="677.87" font-family="Liberation Sans, sans-serif" font-size="11" text-anchor="middle" font-weight="bold" font-style="normal" fill="#111" transform="translate(531.30,677.87) scale(0.95,1) translate(-531.30,-677.87)" stroke="#111" stroke-width="0.3">2</text>
<polygon points="119.5,448.3 119.5,474.7 133.2,461.2" fill="#666" stroke="#111" stroke-width="1.3" stroke-linejoin="round"/>
<circle cx="119.3" cy="461.2" r="7.1" fill="#fff" stroke="#111" stroke-width="1.5"/>
<text x="119.30" y="465.67" font-family="Liberation Sans, sans-serif" font-size="11" text-anchor="middle" font-weight="bold" font-style="normal" fill="#111" transform="translate(119.30,465.67) scale(0.95,1) translate(-119.30,-465.67)" stroke="#111" stroke-width="0.3">3</text>
<polygon points="111.2,101.6 166.5,112.2 123,110.8" fill="#888" stroke="#444" stroke-width="0.6"/>
<polygon points="166.5,112.2 115.3,117.6 123,110.8" fill="#fff" stroke="#aaa" stroke-width="0.6"/>
<path d="M126.8,110.8 A8.3,8.3 0 0 0 143,114.5" stroke="#111" stroke-width="1.6" fill="none"/>
<path d="M126.8,110.8 A8.3,8.3 0 0 1 143,114.5" stroke="#bbb" stroke-width="0.8" fill="none"/>
<line x1="135" y1="99" x2="135" y2="122" stroke="#bbb" stroke-width="0.5" stroke-linecap="butt"/>
<text x="250.00" y="254.71" font-family="Liberation Serif, serif" font-size="9.4" text-anchor="middle" font-weight="normal" font-style="normal" fill="#111" textLength="65" lengthAdjust="spacingAndGlyphs" stroke="#111" stroke-width="0.45">ΤΠΝΟΔΩΜΑΤΙΟ</text>
<text x="249.50" y="265.21" font-family="Liberation Serif, serif" font-size="9.4" text-anchor="middle" font-weight="normal" font-style="normal" fill="#111" stroke="#111" stroke-width="0.45">1</text>
<text x="351.25" y="254.51" font-family="Liberation Serif, serif" font-size="9.4" text-anchor="middle" font-weight="normal" font-style="normal" fill="#111" textLength="65" lengthAdjust="spacingAndGlyphs" stroke="#111" stroke-width="0.45">ΤΠΝΘΔΩΜΑΤΙΟ</text>
<text x="350.75" y="265.21" font-family="Liberation Serif, serif" font-size="9.4" text-anchor="middle" font-weight="normal" font-style="normal" fill="#111" stroke="#111" stroke-width="0.45">2</text>
<text x="430.50" y="217.71" font-family="Liberation Serif, serif" font-size="9.4" text-anchor="middle" font-weight="normal" font-style="normal" fill="#111" textLength="39" lengthAdjust="spacingAndGlyphs" stroke="#111" stroke-width="0.45">ΚΟΤΖΙΝΑ</text>
<text x="470.60" y="264.71" font-family="Liberation Serif, serif" font-size="9.4" text-anchor="middle" font-weight="normal" font-style="normal" fill="#111" textLength="57" lengthAdjust="spacingAndGlyphs" stroke="#111" stroke-width="0.45">ΤΡΑΠΕΖΑΡΙΑ</text>
<text x="581.25" y="314.71" font-family="Liberation Serif, serif" font-size="9.4" text-anchor="middle" font-weight="normal" font-style="normal" fill="#111" textLength="35" lengthAdjust="spacingAndGlyphs" stroke="#111" stroke-width="0.45">ΣΑΛΟΝΙ</text>
<text x="233.50" y="322.71" font-family="Liberation Serif, serif" font-size="9.4" text-anchor="middle" font-weight="normal" font-style="normal" fill="#111" textLength="27" lengthAdjust="spacingAndGlyphs" stroke="#111" stroke-width="0.45">ΝΤΟΤΣ</text>
<text x="233.50" y="390.71" font-family="Liberation Serif, serif" font-size="9.4" text-anchor="middle" font-weight="normal" font-style="normal" fill="#111" textLength="27" lengthAdjust="spacingAndGlyphs" stroke="#111" stroke-width="0.45">ΝΤΟΤΣ</text>
<text x="393.00" y="352.21" font-family="Liberation Serif, serif" font-size="9.4" text-anchor="middle" font-weight="normal" font-style="normal" fill="#111" textLength="17" lengthAdjust="spacingAndGlyphs" stroke="#111" stroke-width="0.45">W.C.</text>
<text x="392.50" y="362.71" font-family="Liberation Serif, serif" font-size="9.4" text-anchor="middle" font-weight="normal" font-style="normal" fill="#111" textLength="26" lengthAdjust="spacingAndGlyphs" stroke="#111" stroke-width="0.45">ΞΕΝΩΝ</text>
<text x="251.90" y="472.21" font-family="Liberation Serif, serif" font-size="9.4" text-anchor="middle" font-weight="normal" font-style="normal" fill="#111" textLength="64" lengthAdjust="spacingAndGlyphs" stroke="#111" stroke-width="0.45">ΤΠΝΟΔΩΜΑΤΙΟ</text>
<text x="251.60" y="482.71" font-family="Liberation Serif, serif" font-size="9.4" text-anchor="middle" font-weight="normal" font-style="normal" fill="#111" stroke="#111" stroke-width="0.45">3</text>
<text x="462.60" y="534.01" font-family="Liberation Serif, serif" font-size="9.4" text-anchor="middle" font-weight="normal" font-style="normal" fill="#111" textLength="65" lengthAdjust="spacingAndGlyphs" stroke="#111" stroke-width="0.45">ΤΠΝΟΔΩΜΑΤΙΟ</text>
<text x="462.20" y="544.71" font-family="Liberation Serif, serif" font-size="9.4" text-anchor="middle" font-weight="normal" font-style="normal" fill="#111" stroke="#111" stroke-width="0.45">1</text>
<text x="528.50" y="563.71" font-family="Liberation Serif, serif" font-size="9.4" text-anchor="middle" font-weight="normal" font-style="normal" fill="#111" textLength="27.4" lengthAdjust="spacingAndGlyphs" stroke="#111" stroke-width="0.45">ΝΤΟΤΣ</text>
<text x="626.25" y="543.41" font-family="Liberation Serif, serif" font-size="9.4" text-anchor="middle" font-weight="normal" font-style="normal" fill="#111" textLength="65" lengthAdjust="spacingAndGlyphs" stroke="#111" stroke-width="0.45">ΤΠΝΟΔΩΜΑΤΙΟ</text>
<text x="626.25" y="553.51" font-family="Liberation Serif, serif" font-size="9.4" text-anchor="middle" font-weight="normal" font-style="normal" fill="#111" stroke="#111" stroke-width="0.45">2</text>
<text x="649.00" y="445.21" font-family="Liberation Serif, serif" font-size="9.4" text-anchor="middle" font-weight="normal" font-style="normal" fill="#111" textLength="34" lengthAdjust="spacingAndGlyphs" stroke="#111" stroke-width="0.45">ΣΑΛΟΝΙ</text>
<text x="721.75" y="463.21" font-family="Liberation Serif, serif" font-size="9.4" text-anchor="middle" font-weight="normal" font-style="normal" fill="#111" textLength="57.5" lengthAdjust="spacingAndGlyphs" stroke="#111" stroke-width="0.45">ΤΡΑΠΕΖΑΡΙΑ</text>
<text x="731.00" y="556.71" font-family="Liberation Serif, serif" font-size="9.4" text-anchor="middle" font-weight="normal" font-style="normal" fill="#111" textLength="39.3" lengthAdjust="spacingAndGlyphs" stroke="#111" stroke-width="0.45">ΚΟΤΖΙΝΑ</text>
<text x="247.50" y="201.59" font-family="Liberation Sans, sans-serif" font-size="10.2" text-anchor="middle" font-weight="normal" font-style="normal" fill="#111" transform="translate(247.50,201.59) scale(0.95,1) translate(-247.50,-201.59)" stroke="#111" stroke-width="0.3">3.35</text>
<text x="352.50" y="201.59" font-family="Liberation Sans, sans-serif" font-size="10.2" text-anchor="middle" font-weight="normal" font-style="normal" fill="#111" transform="translate(352.50,201.59) scale(0.95,1) translate(-352.50,-201.59)" stroke="#111" stroke-width="0.3">3.30</text>
<text x="444.70" y="203.59" font-family="Liberation Sans, sans-serif" font-size="10.2" text-anchor="middle" font-weight="normal" font-style="normal" fill="#111" transform="translate(444.70,203.59) scale(0.95,1) translate(-444.70,-203.59)" stroke="#111" stroke-width="0.3">2.50</text>
<text x="517.50" y="283.59" font-family="Liberation Sans, sans-serif" font-size="10.2" text-anchor="middle" font-weight="normal" font-style="normal" fill="#111" transform="translate(517.50,283.59) scale(0.95,1) translate(-517.50,-283.59)" stroke="#111" stroke-width="0.3">7.30</text>
<text x="228.00" y="368.09" font-family="Liberation Sans, sans-serif" font-size="10.2" text-anchor="middle" font-weight="normal" font-style="normal" fill="#111" transform="translate(228.00,368.09) scale(0.95,1) translate(-228.00,-368.09)" stroke="#111" stroke-width="0.3">2.10</text>
<text x="245.60" y="490.79" font-family="Liberation Sans, sans-serif" font-size="10.2" text-anchor="middle" font-weight="normal" font-style="normal" fill="#111" transform="translate(245.60,490.79) scale(0.95,1) translate(-245.60,-490.79)" stroke="#111" stroke-width="0.3">3.20</text>
<text x="456.00" y="574.59" font-family="Liberation Sans, sans-serif" font-size="10.2" text-anchor="middle" font-weight="normal" font-style="normal" fill="#111" transform="translate(456.00,574.59) scale(0.95,1) translate(-456.00,-574.59)" stroke="#111" stroke-width="0.3">3.30</text>
<text x="537.50" y="576.09" font-family="Liberation Sans, sans-serif" font-size="10.2" text-anchor="middle" font-weight="normal" font-style="normal" fill="#111" transform="translate(537.50,576.09) scale(0.95,1) translate(-537.50,-576.09)" stroke="#111" stroke-width="0.3">1.85</text>
<text x="637.50" y="562.79" font-family="Liberation Sans, sans-serif" font-size="10.2" text-anchor="middle" font-weight="normal" font-style="normal" fill="#111" transform="translate(637.50,562.79) scale(0.95,1) translate(-637.50,-562.79)" stroke="#111" stroke-width="0.3">3.20</text>
<text x="731.80" y="532.19" font-family="Liberation Sans, sans-serif" font-size="10.2" text-anchor="middle" font-weight="normal" font-style="normal" fill="#111" transform="translate(731.80,532.19) scale(0.95,1) translate(-731.80,-532.19)" stroke="#111" stroke-width="0.3">2.70</text>
<text x="648.50" y="424.59" font-family="Liberation Sans, sans-serif" font-size="10.2" text-anchor="middle" font-weight="normal" font-style="normal" fill="#111" transform="translate(648.50,424.59) scale(0.95,1) translate(-648.50,-424.59)" stroke="#111" stroke-width="0.3">6.65</text>
<text x="819.00" y="431.89" font-family="Liberation Sans, sans-serif" font-size="10.2" text-anchor="middle" font-weight="normal" font-style="normal" fill="#111" transform="translate(819.00,431.89) scale(0.95,1) translate(-819.00,-431.89)" stroke="#111" stroke-width="0.3">3.73</text>
<text x="726.00" y="332.59" font-family="Liberation Sans, sans-serif" font-size="10.2" text-anchor="middle" font-weight="normal" font-style="normal" fill="#111" transform="translate(726.00,332.59) scale(0.95,1) translate(-726.00,-332.59)" stroke="#111" stroke-width="0.3">5.57</text>
<text x="877.50" y="345.59" font-family="Liberation Sans, sans-serif" font-size="10.2" text-anchor="middle" font-weight="normal" font-style="normal" fill="#111" transform="translate(877.50,345.59) scale(0.95,1) translate(-877.50,-345.59)" stroke="#111" stroke-width="0.3">3.03</text>
<text x="849.50" y="355.79" font-family="Liberation Sans, sans-serif" font-size="10.2" text-anchor="middle" font-weight="normal" font-style="normal" fill="#111" transform="translate(849.50,355.79) scale(0.95,1) translate(-849.50,-355.79)" stroke="#111" stroke-width="0.3">1.20</text>
<text x="895.50" y="355.59" font-family="Liberation Sans, sans-serif" font-size="10.2" text-anchor="middle" font-weight="normal" font-style="normal" fill="#111" transform="translate(895.50,355.59) scale(0.95,1) translate(-895.50,-355.59)" stroke="#111" stroke-width="0.3">1.83</text>
<text x="219.39" y="229.40" font-family="Liberation Sans, sans-serif" font-size="10.2" text-anchor="middle" font-weight="normal" font-style="normal" fill="#111" transform="translate(219.39,229.40) rotate(-90) scale(0.95,1) translate(-219.39,-229.40)" stroke="#111" stroke-width="0.3">3.20</text>
<text x="219.19" y="325.60" font-family="Liberation Sans, sans-serif" font-size="10.2" text-anchor="middle" font-weight="normal" font-style="normal" fill="#111" transform="translate(219.19,325.60) rotate(-90) scale(0.95,1) translate(-219.19,-325.60)" stroke="#111" stroke-width="0.3">1.65</text>
<text x="218.59" y="379.00" font-family="Liberation Sans, sans-serif" font-size="10.2" text-anchor="middle" font-weight="normal" font-style="normal" fill="#111" transform="translate(218.59,379.00) rotate(-90) scale(0.95,1) translate(-218.59,-379.00)" stroke="#111" stroke-width="0.3">1.65</text>
<text x="219.19" y="458.30" font-family="Liberation Sans, sans-serif" font-size="10.2" text-anchor="middle" font-weight="normal" font-style="normal" fill="#111" transform="translate(219.19,458.30) rotate(-90) scale(0.95,1) translate(-219.19,-458.30)" stroke="#111" stroke-width="0.3">3.35</text>
<text x="426.09" y="559.00" font-family="Liberation Sans, sans-serif" font-size="10.2" text-anchor="middle" font-weight="normal" font-style="normal" fill="#111" transform="translate(426.09,559.00) rotate(-90) scale(0.95,1) translate(-426.09,-559.00)" stroke="#111" stroke-width="0.3">3.10</text>
<text x="555.89" y="576.00" font-family="Liberation Sans, sans-serif" font-size="10.2" text-anchor="middle" font-weight="normal" font-style="normal" fill="#111" transform="translate(555.89,576.00) rotate(-90) scale(0.95,1) translate(-555.89,-576.00)" stroke="#111" stroke-width="0.3">2.00</text>
<text x="669.59" y="558.80" font-family="Liberation Sans, sans-serif" font-size="10.2" text-anchor="middle" font-weight="normal" font-style="normal" fill="#111" transform="translate(669.59,558.80) rotate(-90) scale(0.95,1) translate(-669.59,-558.80)" stroke="#111" stroke-width="0.3">3.10</text>
<text x="703.19" y="553.50" font-family="Liberation Sans, sans-serif" font-size="10.2" text-anchor="middle" font-weight="normal" font-style="normal" fill="#111" transform="translate(703.19,553.50) rotate(-90) scale(0.95,1) translate(-703.19,-553.50)" stroke="#111" stroke-width="0.3">2.90</text>
<text x="589.59" y="299.50" font-family="Liberation Sans, sans-serif" font-size="10.2" text-anchor="middle" font-weight="normal" font-style="normal" fill="#111" transform="translate(589.59,299.50) rotate(-90) scale(0.95,1) translate(-589.59,-299.50)" stroke="#111" stroke-width="0.3">4.45</text>
<text x="665.69" y="289.40" font-family="Liberation Sans, sans-serif" font-size="10.2" text-anchor="middle" font-weight="normal" font-style="normal" fill="#111" transform="translate(665.69,289.40) rotate(-90) scale(0.95,1) translate(-665.69,-289.40)" stroke="#111" stroke-width="0.3">4.97</text>
<text x="669.59" y="440.00" font-family="Liberation Sans, sans-serif" font-size="10.2" text-anchor="middle" font-weight="normal" font-style="normal" fill="#111" transform="translate(669.59,440.00) rotate(-90) scale(0.95,1) translate(-669.59,-440.00)" stroke="#111" stroke-width="0.3">4.35</text>
<text x="853.59" y="491.60" font-family="Liberation Sans, sans-serif" font-size="10.2" text-anchor="middle" font-weight="normal" font-style="normal" fill="#111" transform="translate(853.59,491.60) rotate(-90) scale(0.95,1) translate(-853.59,-491.60)" stroke="#111" stroke-width="0.3">8.00</text>
<line x1="196.4" y1="204" x2="298.75" y2="204" stroke="#aaa" stroke-width="0.8" stroke-dasharray="5,4" stroke-linecap="butt"/>
<line x1="302.5" y1="204" x2="403.2" y2="204" stroke="#aaa" stroke-width="0.8" stroke-dasharray="5,4" stroke-linecap="butt"/>
<line x1="406.8" y1="204" x2="483.4" y2="204" stroke="#aaa" stroke-width="0.8" stroke-dasharray="5,4" stroke-linecap="butt"/>
<line x1="196.4" y1="360" x2="260" y2="360" stroke="#aaa" stroke-width="0.8" stroke-dasharray="5,4" stroke-linecap="butt"/>
<line x1="221.4" y1="180.3" x2="221.4" y2="278" stroke="#aaa" stroke-width="0.8" stroke-dasharray="5,4" stroke-linecap="butt"/>
<line x1="196.4" y1="492.3" x2="294.8" y2="492.3" stroke="#aaa" stroke-width="0.8" stroke-dasharray="5,4" stroke-linecap="butt"/>
<line x1="221.4" y1="407.3" x2="221.4" y2="510" stroke="#aaa" stroke-width="0.8" stroke-dasharray="5,4" stroke-linecap="butt"/>
<line x1="221.4" y1="300.3" x2="221.4" y2="403.4" stroke="#aaa" stroke-width="0.8" stroke-dasharray="5,4" stroke-linecap="butt"/>
<line x1="406.7" y1="578" x2="507" y2="578" stroke="#aaa" stroke-width="0.8" stroke-dasharray="5,4" stroke-linecap="butt"/>
<line x1="512" y1="578" x2="567" y2="578" stroke="#aaa" stroke-width="0.8" stroke-dasharray="5,4" stroke-linecap="butt"/>
<line x1="571" y1="564" x2="687" y2="564" stroke="#aaa" stroke-width="0.8" stroke-dasharray="5,4" stroke-linecap="butt"/>
<line x1="690" y1="534.6" x2="773" y2="534.6" stroke="#aaa" stroke-width="0.8" stroke-dasharray="5,4" stroke-linecap="butt"/>
<line x1="705.4" y1="508" x2="705.4" y2="597" stroke="#aaa" stroke-width="0.8" stroke-dasharray="5,4" stroke-linecap="butt"/>
<line x1="672.5" y1="511" x2="672.5" y2="606" stroke="#aaa" stroke-width="0.8" stroke-dasharray="5,4" stroke-linecap="butt"/>
<line x1="428" y1="290" x2="507" y2="290" stroke="#aaa" stroke-width="0.8" stroke-dasharray="5,4" stroke-linecap="butt"/>
<line x1="507" y1="285" x2="630" y2="285" stroke="#aaa" stroke-width="0.8" stroke-dasharray="5,4" stroke-linecap="butt"/>
<line x1="590" y1="230.5" x2="590" y2="367.9" stroke="#aaa" stroke-width="0.8" stroke-dasharray="5,4" stroke-linecap="butt"/>
<line x1="640" y1="334.9" x2="805.5" y2="334.9" stroke="#aaa" stroke-width="0.8" stroke-dasharray="5,4" stroke-linecap="butt"/>
<line x1="214" y1="520.5" x2="214" y2="612" stroke="#aaa" stroke-width="0.8" stroke-dasharray="5,4" stroke-linecap="butt"/>
<line x1="262.5" y1="520.5" x2="262.5" y2="612" stroke="#aaa" stroke-width="0.8" stroke-dasharray="5,4" stroke-linecap="butt"/>
<line x1="667.7" y1="218.9" x2="667.7" y2="364" stroke="#aaa" stroke-width="0.8" stroke-dasharray="5,4" stroke-linecap="butt"/>
<line x1="428.8" y1="511" x2="428.8" y2="606" stroke="#aaa" stroke-width="0.8" stroke-dasharray="5,4" stroke-linecap="butt"/>
<line x1="461.6" y1="420" x2="751.9" y2="420" stroke="#aaa" stroke-width="0.8" stroke-dasharray="5,4" stroke-linecap="butt"/>
<line x1="761" y1="433.5" x2="870" y2="433.5" stroke="#aaa" stroke-width="0.8" stroke-dasharray="5,4" stroke-linecap="butt"/>
<line x1="673" y1="375" x2="673" y2="509" stroke="#aaa" stroke-width="0.8" stroke-dasharray="5,4" stroke-linecap="butt"/>
<line x1="194.0" y1="206.4" x2="198.8" y2="201.6" stroke="#111" stroke-width="1.3" stroke-linecap="butt"/>
<line x1="296.35" y1="206.4" x2="301.15" y2="201.6" stroke="#111" stroke-width="1.3" stroke-linecap="butt"/>
<line x1="300.1" y1="206.4" x2="304.9" y2="201.6" stroke="#111" stroke-width="1.3" stroke-linecap="butt"/>
<line x1="400.8" y1="206.4" x2="405.59999999999997" y2="201.6" stroke="#111" stroke-width="1.3" stroke-linecap="butt"/>
<line x1="404.40000000000003" y1="206.4" x2="409.2" y2="201.6" stroke="#111" stroke-width="1.3" stroke-linecap="butt"/>
<line x1="481.0" y1="206.4" x2="485.79999999999995" y2="201.6" stroke="#111" stroke-width="1.3" stroke-linecap="butt"/>
<line x1="194.0" y1="494.7" x2="198.8" y2="489.90000000000003" stroke="#111" stroke-width="1.3" stroke-linecap="butt"/>
<line x1="292.40000000000003" y1="494.7" x2="297.2" y2="489.90000000000003" stroke="#111" stroke-width="1.3" stroke-linecap="butt"/>
<line x1="504.6" y1="580.4" x2="509.4" y2="575.6" stroke="#111" stroke-width="1.3" stroke-linecap="butt"/>
<line x1="564.6" y1="580.4" x2="569.4" y2="575.6" stroke="#111" stroke-width="1.3" stroke-linecap="butt"/>
<line x1="568.6" y1="566.4" x2="573.4" y2="561.6" stroke="#111" stroke-width="1.3" stroke-linecap="butt"/>
<line x1="684.6" y1="566.4" x2="689.4" y2="561.6" stroke="#111" stroke-width="1.3" stroke-linecap="butt"/>
<line x1="687.6" y1="537.0" x2="692.4" y2="532.2" stroke="#111" stroke-width="1.3" stroke-linecap="butt"/>
<line x1="770.6" y1="537.0" x2="775.4" y2="532.2" stroke="#111" stroke-width="1.3" stroke-linecap="butt"/>
<line x1="627.6" y1="287.4" x2="632.4" y2="282.6" stroke="#111" stroke-width="1.3" stroke-linecap="butt"/>
<line x1="637.6" y1="337.29999999999995" x2="642.4" y2="332.5" stroke="#111" stroke-width="1.3" stroke-linecap="butt"/>
<line x1="803.1" y1="337.29999999999995" x2="807.9" y2="332.5" stroke="#111" stroke-width="1.3" stroke-linecap="butt"/>
<line x1="758.6" y1="435.9" x2="763.4" y2="431.1" stroke="#111" stroke-width="1.3" stroke-linecap="butt"/>
<line x1="873.6" y1="435.9" x2="878.4" y2="431.1" stroke="#111" stroke-width="1.3" stroke-linecap="butt"/>
<line x1="404.3" y1="580.4" x2="409.09999999999997" y2="575.6" stroke="#111" stroke-width="1.3" stroke-linecap="butt"/>
<line x1="508.6" y1="580.4" x2="513.4" y2="575.6" stroke="#111" stroke-width="1.3" stroke-linecap="butt"/>
<line x1="749.5" y1="422.4" x2="754.3" y2="417.6" stroke="#111" stroke-width="1.3" stroke-linecap="butt"/>
<line x1="459.20000000000005" y1="422.4" x2="464.0" y2="417.6" stroke="#111" stroke-width="1.3" stroke-linecap="butt"/>
<line x1="828.1" y1="349.9" x2="832.9" y2="345.1" stroke="#111" stroke-width="1.3" stroke-linecap="butt"/>
<line x1="921.6" y1="349.9" x2="926.4" y2="345.1" stroke="#111" stroke-width="1.3" stroke-linecap="butt"/>
<line x1="828.1" y1="359.4" x2="832.9" y2="354.6" stroke="#111" stroke-width="1.3" stroke-linecap="butt"/>
<line x1="865.6" y1="359.4" x2="870.4" y2="354.6" stroke="#111" stroke-width="1.3" stroke-linecap="butt"/>
<line x1="921.6" y1="359.4" x2="926.4" y2="354.6" stroke="#111" stroke-width="1.3" stroke-linecap="butt"/>
<line x1="219.20000000000002" y1="178.10000000000002" x2="223.6" y2="182.5" stroke="#111" stroke-width="1.3" stroke-linecap="butt"/>
<line x1="219.20000000000002" y1="275.8" x2="223.6" y2="280.2" stroke="#111" stroke-width="1.3" stroke-linecap="butt"/>
<line x1="426.6" y1="508.8" x2="431.0" y2="513.2" stroke="#111" stroke-width="1.3" stroke-linecap="butt"/>
<line x1="670.3" y1="506.55" x2="674.7" y2="510.95" stroke="#111" stroke-width="1.3" stroke-linecap="butt"/>
<line x1="670.3" y1="603.3" x2="674.7" y2="607.7" stroke="#111" stroke-width="1.3" stroke-linecap="butt"/>
<line x1="703.1999999999999" y1="505.8" x2="707.6" y2="510.2" stroke="#111" stroke-width="1.3" stroke-linecap="butt"/>
<line x1="703.1999999999999" y1="594.8" x2="707.6" y2="599.2" stroke="#111" stroke-width="1.3" stroke-linecap="butt"/>
<line x1="665.5" y1="216.70000000000002" x2="669.9000000000001" y2="221.1" stroke="#111" stroke-width="1.3" stroke-linecap="butt"/>
<line x1="665.5" y1="361.8" x2="669.9000000000001" y2="366.2" stroke="#111" stroke-width="1.3" stroke-linecap="butt"/>
<line x1="587.8" y1="228.3" x2="592.2" y2="232.7" stroke="#111" stroke-width="1.3" stroke-linecap="butt"/>
<line x1="587.8" y1="365.7" x2="592.2" y2="370.09999999999997" stroke="#111" stroke-width="1.3" stroke-linecap="butt"/>
<line x1="219.20000000000002" y1="347.8" x2="223.6" y2="352.2" stroke="#111" stroke-width="1.3" stroke-linecap="butt"/>
<line x1="219.20000000000002" y1="352.0" x2="223.6" y2="356.4" stroke="#111" stroke-width="1.3" stroke-linecap="butt"/>
<line x1="219.20000000000002" y1="401.2" x2="223.6" y2="405.59999999999997" stroke="#111" stroke-width="1.3" stroke-linecap="butt"/>
<line x1="219.20000000000002" y1="405.1" x2="223.6" y2="409.5" stroke="#111" stroke-width="1.3" stroke-linecap="butt"/>
<line x1="219.20000000000002" y1="507.8" x2="223.6" y2="512.2" stroke="#111" stroke-width="1.3" stroke-linecap="butt"/>
<line x1="830.5" y1="347.5" x2="924" y2="347.5" stroke="#aaa" stroke-width="0.8" stroke-dasharray="5,4" stroke-linecap="butt"/>
<line x1="830.5" y1="357" x2="924" y2="357" stroke="#aaa" stroke-width="0.8" stroke-dasharray="5,4" stroke-linecap="butt"/>
<text x="483.75" y="308.30" font-family="Liberation Sans, sans-serif" font-size="10.8" text-anchor="middle" font-weight="normal" font-style="normal" fill="#111" textLength="50" lengthAdjust="spacingAndGlyphs" stroke="#111" stroke-width="0.2"><tspan font-style="italic">διαμ</tspan>.401</text>
<text x="483.50" y="321.30" font-family="Liberation Sans, sans-serif" font-size="10.8" text-anchor="middle" font-weight="normal" font-style="normal" fill="#111" textLength="123" lengthAdjust="spacingAndGlyphs" stroke="#111" stroke-width="0.2">111.04<tspan font-style="italic">τ.μ.</tspan>–0.19<tspan font-style="italic">τ.μ.</tspan>=</text>
<text x="484.00" y="333.80" font-family="Liberation Sans, sans-serif" font-size="10.8" text-anchor="middle" font-weight="normal" font-style="normal" fill="#111" textLength="60" lengthAdjust="spacingAndGlyphs" stroke="#111" stroke-width="0.2">110.85<tspan font-style="italic">τ.μ.</tspan></text>
<text x="524.60" y="389.30" font-family="Liberation Sans, sans-serif" font-size="10.8" text-anchor="middle" font-weight="normal" font-style="normal" fill="#111" textLength="53" lengthAdjust="spacingAndGlyphs" stroke="#111" stroke-width="0.2"><tspan font-style="italic">διαμ</tspan>.402</text>
<text x="524.40" y="402.10" font-family="Liberation Sans, sans-serif" font-size="10.8" text-anchor="middle" font-weight="normal" font-style="normal" fill="#111" textLength="56" lengthAdjust="spacingAndGlyphs" stroke="#111" stroke-width="0.2">87.52<tspan font-style="italic">τ.μ.</tspan></text>
<text x="711.70" y="294.15" font-family="Liberation Sans, sans-serif" font-size="9.8" text-anchor="middle" font-weight="normal" font-style="normal" fill="#111" textLength="47.4" lengthAdjust="spacingAndGlyphs" stroke="#111" stroke-width="0.2"><tspan font-style="italic">καλυμενη</tspan></text>
<text x="711.50" y="303.95" font-family="Liberation Sans, sans-serif" font-size="9.8" text-anchor="middle" font-weight="normal" font-style="normal" fill="#111" textLength="41.3" lengthAdjust="spacingAndGlyphs" stroke="#111" stroke-width="0.2"><tspan font-style="italic">βεραντα</tspan></text>
<text x="711.00" y="314.20" font-family="Liberation Sans, sans-serif" font-size="9.8" text-anchor="middle" font-weight="normal" font-style="normal" fill="#111" textLength="45" lengthAdjust="spacingAndGlyphs" stroke="#111" stroke-width="0.2">27.87<tspan font-style="italic">τ.μ.</tspan></text>
<text x="821.20" y="490.85" font-family="Liberation Sans, sans-serif" font-size="9.8" text-anchor="middle" font-weight="normal" font-style="normal" fill="#111" textLength="47.6" lengthAdjust="spacingAndGlyphs" stroke="#111" stroke-width="0.2"><tspan font-style="italic">καλυμενη</tspan></text>
<text x="820.80" y="500.65" font-family="Liberation Sans, sans-serif" font-size="9.8" text-anchor="middle" font-weight="normal" font-style="normal" fill="#111" textLength="41.3" lengthAdjust="spacingAndGlyphs" stroke="#111" stroke-width="0.2"><tspan font-style="italic">βεραντα</tspan></text>
<text x="821.20" y="510.45" font-family="Liberation Sans, sans-serif" font-size="9.8" text-anchor="middle" font-weight="normal" font-style="normal" fill="#111" textLength="44.8" lengthAdjust="spacingAndGlyphs" stroke="#111" stroke-width="0.2">23.55<tspan font-style="italic">τ.μ.</tspan></text>
<text x="313.00" y="300.82" font-family="Liberation Sans, sans-serif" font-size="8" text-anchor="middle" font-weight="normal" font-style="normal" fill="#111" textLength="28" lengthAdjust="spacingAndGlyphs" stroke="#111" stroke-width="0.3"><tspan font-style="italic">ντουλαπα</tspan></text>
<text x="313.00" y="311.22" font-family="Liberation Sans, sans-serif" font-size="8" text-anchor="middle" font-weight="normal" font-style="normal" fill="#111" textLength="26" lengthAdjust="spacingAndGlyphs" stroke="#111" stroke-width="0.3">0.19<tspan font-style="italic">τ.μ.</tspan></text>
<circle cx="715" cy="192" r="4.4" fill="#fff" stroke="#111" stroke-width="1.2"/>
<path d="M715,192 L710.6,192 A4.4,4.4 0 0 1 715,187.6 Z M715,192 L719.4,192 A4.4,4.4 0 0 1 715,196.4 Z" fill="#111"/>
<line x1="708" y1="192" x2="722.0" y2="192" stroke="#333" stroke-width="0.6" stroke-linecap="butt"/>
<line x1="715" y1="185" x2="715" y2="199" stroke="#333" stroke-width="0.6" stroke-linecap="butt"/>
<text x="720.50" y="191.02" font-family="Liberation Sans, sans-serif" font-size="10" text-anchor="start" font-weight="normal" font-style="normal" fill="#111" transform="translate(720.50,191.02) scale(0.95,1) translate(-720.50,-191.02)" stroke="#111" stroke-width="0.3">164.90</text>
<line x1="719" y1="192" x2="742.5" y2="192" stroke="#333" stroke-width="0.8" stroke-linecap="butt"/>
<circle cx="370.8" cy="393.8" r="4.4" fill="#fff" stroke="#111" stroke-width="1.2"/>
<path d="M370.8,393.8 L366.40000000000003,393.8 A4.4,4.4 0 0 1 370.8,389.40000000000003 Z M370.8,393.8 L375.2,393.8 A4.4,4.4 0 0 1 370.8,398.2 Z" fill="#111"/>
<line x1="363.8" y1="393.8" x2="377.8" y2="393.8" stroke="#333" stroke-width="0.6" stroke-linecap="butt"/>
<line x1="370.8" y1="386.8" x2="370.8" y2="400.8" stroke="#333" stroke-width="0.6" stroke-linecap="butt"/>
<text x="376.70" y="392.82" font-family="Liberation Sans, sans-serif" font-size="10" text-anchor="start" font-weight="normal" font-style="normal" fill="#111" transform="translate(376.70,392.82) scale(0.95,1) translate(-376.70,-392.82)" stroke="#111" stroke-width="0.3">164.90</text>
<line x1="374.8" y1="393.8" x2="398.7" y2="393.8" stroke="#333" stroke-width="0.8" stroke-linecap="butt"/>
<circle cx="716" cy="272.7" r="4.4" fill="#fff" stroke="#111" stroke-width="1.2"/>
<path d="M716,272.7 L711.6,272.7 A4.4,4.4 0 0 1 716,268.3 Z M716,272.7 L720.4,272.7 A4.4,4.4 0 0 1 716,277.09999999999997 Z" fill="#111"/>
<line x1="709" y1="272.7" x2="723.0" y2="272.7" stroke="#333" stroke-width="0.6" stroke-linecap="butt"/>
<line x1="716" y1="265.7" x2="716" y2="279.7" stroke="#333" stroke-width="0.6" stroke-linecap="butt"/>
<text x="721.50" y="271.72" font-family="Liberation Sans, sans-serif" font-size="10" text-anchor="start" font-weight="normal" font-style="normal" fill="#111" transform="translate(721.50,271.72) scale(0.95,1) translate(-721.50,-271.72)" stroke="#111" stroke-width="0.3">165.10</text>
<line x1="720" y1="272.7" x2="743.5" y2="272.7" stroke="#333" stroke-width="0.8" stroke-linecap="butt"/>
<circle cx="785.1" cy="453.1" r="4.4" fill="#fff" stroke="#111" stroke-width="1.2"/>
<path d="M785.1,453.1 L780.7,453.1 A4.4,4.4 0 0 1 785.1,448.70000000000005 Z M785.1,453.1 L789.5,453.1 A4.4,4.4 0 0 1 785.1,457.5 Z" fill="#111"/>
<line x1="778.1" y1="453.1" x2="792.1" y2="453.1" stroke="#333" stroke-width="0.6" stroke-linecap="butt"/>
<line x1="785.1" y1="446.1" x2="785.1" y2="460.1" stroke="#333" stroke-width="0.6" stroke-linecap="butt"/>
<text x="791.00" y="452.12" font-family="Liberation Sans, sans-serif" font-size="10" text-anchor="start" font-weight="normal" font-style="normal" fill="#111" transform="translate(791.00,452.12) scale(0.95,1) translate(-791.00,-452.12)" stroke="#111" stroke-width="0.3">165.10</text>
<line x1="789.1" y1="453.1" x2="813" y2="453.1" stroke="#333" stroke-width="0.8" stroke-linecap="butt"/>
<circle cx="579" cy="402" r="4.4" fill="#fff" stroke="#111" stroke-width="1.2"/>
<path d="M579,402 L574.6,402 A4.4,4.4 0 0 1 579,397.6 Z M579,402 L583.4,402 A4.4,4.4 0 0 1 579,406.4 Z" fill="#111"/>
<line x1="572" y1="402" x2="586.0" y2="402" stroke="#333" stroke-width="0.6" stroke-linecap="butt"/>
<line x1="579" y1="395" x2="579" y2="409" stroke="#333" stroke-width="0.6" stroke-linecap="butt"/>
<text x="585.50" y="401.02" font-family="Liberation Sans, sans-serif" font-size="10" text-anchor="start" font-weight="normal" font-style="normal" fill="#111" transform="translate(585.50,401.02) scale(0.95,1) translate(-585.50,-401.02)" stroke="#111" stroke-width="0.3">165.15</text>
<line x1="583" y1="402" x2="607.5" y2="402" stroke="#333" stroke-width="0.8" stroke-linecap="butt"/>
<rect x="707.6" y="254.7" width="45.0" height="26.69999999999999" stroke="#222" stroke-width="1.1" fill="none"/>
<text x="729.00" y="262.31" font-family="Liberation Serif, serif" font-size="8.5" text-anchor="middle" font-weight="normal" font-style="normal" fill="#aaa" stroke="#aaa" stroke-width="0.3">F.F.</text>
<rect x="776.4" y="435.3" width="45.30000000000007" height="27.19999999999999" stroke="#222" stroke-width="1.1" fill="none"/>
<text x="798.00" y="442.81" font-family="Liberation Serif, serif" font-size="8.5" text-anchor="middle" font-weight="normal" font-style="normal" fill="#aaa" stroke="#aaa" stroke-width="0.3">F.F.</text>
<rect x="570.7" y="384.8" width="45.549999999999955" height="27.30000000000001" stroke="#222" stroke-width="1.1" fill="none"/>
<text x="592.00" y="392.31" font-family="Liberation Serif, serif" font-size="8.5" text-anchor="middle" font-weight="normal" font-style="normal" fill="#aaa" stroke="#aaa" stroke-width="0.3">F.F.</text>
<polyline points="362.5,613.5 397.5,712.5 410,712.5" stroke="#444" stroke-width="0.7" fill="none" stroke-linejoin="miter"/>
<text x="411.50" y="716.44" font-family="Liberation Serif, serif" font-size="10.4" text-anchor="start" font-weight="bold" font-style="normal" fill="#111" textLength="101" lengthAdjust="spacingAndGlyphs" stroke="#111" stroke-width="0.25">ΑΝΟΙΓΟΑΝΑΚΛΕΙΝΟΜΕΝΟ</text>
<text x="410.00" y="811.28" font-family="Liberation Sans, sans-serif" font-size="17" text-anchor="start" font-weight="normal" font-style="normal" fill="#111" textLength="75.4" lengthAdjust="spacingAndGlyphs">ΚΑΤΟΨΗ</text>
<text x="497.00" y="811.28" font-family="Liberation Sans, sans-serif" font-size="17" text-anchor="start" font-weight="normal" font-style="normal" fill="#111" textLength="28.8" lengthAdjust="spacingAndGlyphs">4ου</text>
<text x="531.40" y="811.28" font-family="Liberation Sans, sans-serif" font-size="17" text-anchor="start" font-weight="normal" font-style="normal" fill="#111" textLength="79.6" lengthAdjust="spacingAndGlyphs">ΟΡΟΦΟΥ</text>
</svg>
</body></html>
